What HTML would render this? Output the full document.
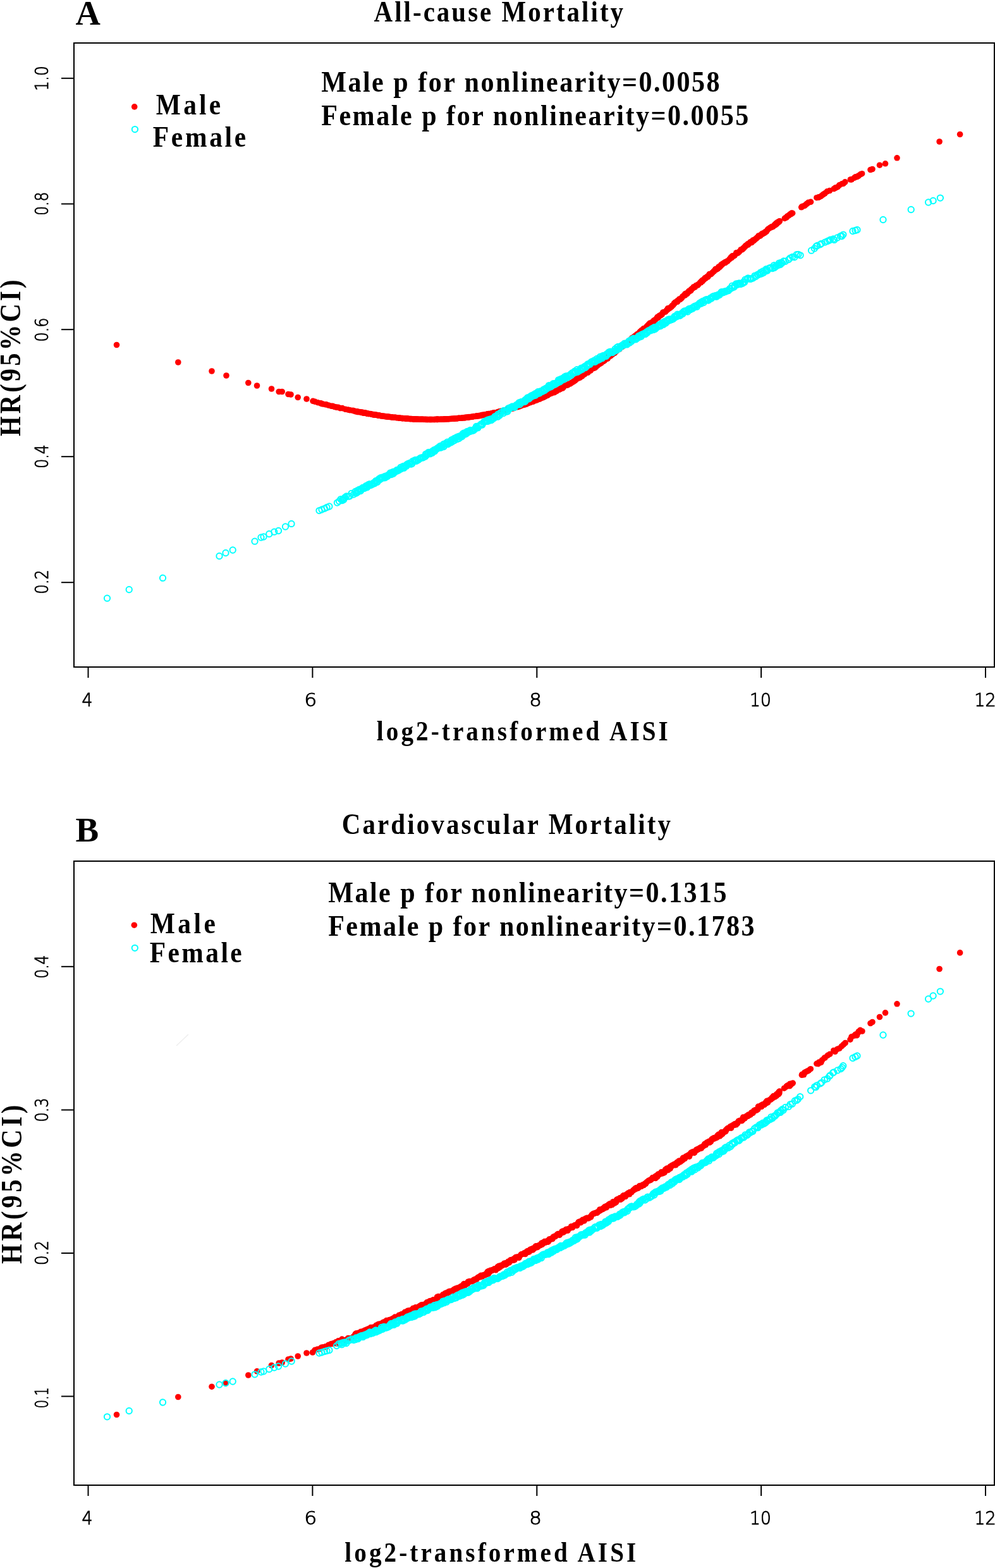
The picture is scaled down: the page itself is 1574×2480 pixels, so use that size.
<!DOCTYPE html>
<html><head><meta charset="utf-8"><title>AISI mortality</title>
<style>
html,body{margin:0;padding:0;background:#fff;}
body{width:1574px;height:2480px;overflow:hidden;}
svg{display:block;}
</style></head><body>
<svg width="1574" height="2480" viewBox="0 0 1574 2480">
<rect width="1574" height="2480" fill="#fff"/>
<g stroke="#000" stroke-width="2" fill="none"><rect x="117" y="68" width="1456" height="987" fill="none" stroke="#000" stroke-width="2"/><line x1="139.5" y1="1055" x2="139.5" y2="1072"/><line x1="494.4" y1="1055" x2="494.4" y2="1072"/><line x1="849.3" y1="1055" x2="849.3" y2="1072"/><line x1="1204.1" y1="1055" x2="1204.1" y2="1072"/><line x1="1559.0" y1="1055" x2="1559.0" y2="1072"/><line x1="97" y1="123.8" x2="117" y2="123.8"/><line x1="97" y1="322.5" x2="117" y2="322.5"/><line x1="97" y1="521.2" x2="117" y2="521.2"/><line x1="97" y1="722.2" x2="117" y2="722.2"/><line x1="97" y1="921.2" x2="117" y2="921.2"/><rect x="117" y="1362" width="1456" height="987" fill="none" stroke="#000" stroke-width="2"/><line x1="139.5" y1="2349" x2="139.5" y2="2366"/><line x1="494.4" y1="2349" x2="494.4" y2="2366"/><line x1="849.3" y1="2349" x2="849.3" y2="2366"/><line x1="1204.1" y1="2349" x2="1204.1" y2="2366"/><line x1="1559.0" y1="2349" x2="1559.0" y2="2366"/><line x1="97" y1="1528.8" x2="117" y2="1528.8"/><line x1="97" y1="1755.5" x2="117" y2="1755.5"/><line x1="97" y1="1982.0" x2="117" y2="1982.0"/><line x1="97" y1="2208.5" x2="117" y2="2208.5"/></g>
<line x1="279" y1="1654" x2="298" y2="1636" stroke="#eee" stroke-width="1.5"/>
<g fill="#f00" stroke="none"><circle cx="495.0" cy="634.3" r="4.8"/><circle cx="498.4" cy="635.3" r="4.8"/><circle cx="502.7" cy="636.7" r="4.8"/><circle cx="507.2" cy="637.9" r="4.8"/><circle cx="508.2" cy="638.1" r="4.8"/><circle cx="510.6" cy="639.0" r="4.8"/><circle cx="514.5" cy="639.7" r="4.8"/><circle cx="516.2" cy="639.8" r="4.8"/><circle cx="519.7" cy="641.0" r="4.8"/><circle cx="523.8" cy="642.2" r="4.8"/><circle cx="526.3" cy="642.3" r="4.8"/><circle cx="528.4" cy="643.2" r="4.8"/><circle cx="530.6" cy="643.8" r="4.8"/><circle cx="533.0" cy="644.3" r="4.8"/><circle cx="535.0" cy="644.2" r="4.8"/><circle cx="538.0" cy="645.6" r="4.8"/><circle cx="541.5" cy="645.6" r="4.8"/><circle cx="546.3" cy="647.3" r="4.8"/><circle cx="550.6" cy="648.0" r="4.8"/><circle cx="553.8" cy="648.8" r="4.8"/><circle cx="558.1" cy="649.4" r="4.8"/><circle cx="560.2" cy="649.8" r="4.8"/><circle cx="561.9" cy="650.7" r="4.8"/><circle cx="563.5" cy="650.7" r="4.8"/><circle cx="564.3" cy="650.7" r="4.8"/><circle cx="564.8" cy="651.1" r="4.8"/><circle cx="565.5" cy="651.0" r="4.8"/><circle cx="566.4" cy="651.6" r="4.8"/><circle cx="568.5" cy="651.5" r="4.8"/><circle cx="570.6" cy="652.1" r="4.8"/><circle cx="571.7" cy="652.4" r="4.8"/><circle cx="572.3" cy="652.3" r="4.8"/><circle cx="573.6" cy="652.4" r="4.8"/><circle cx="574.0" cy="652.9" r="4.8"/><circle cx="574.9" cy="653.0" r="4.8"/><circle cx="575.8" cy="653.1" r="4.8"/><circle cx="577.4" cy="653.1" r="4.8"/><circle cx="578.1" cy="653.3" r="4.8"/><circle cx="578.8" cy="653.4" r="4.8"/><circle cx="580.1" cy="653.9" r="4.8"/><circle cx="581.1" cy="654.3" r="4.8"/><circle cx="582.0" cy="654.1" r="4.8"/><circle cx="583.2" cy="654.6" r="4.8"/><circle cx="585.4" cy="654.5" r="4.8"/><circle cx="587.0" cy="654.9" r="4.8"/><circle cx="588.2" cy="655.3" r="4.8"/><circle cx="590.0" cy="655.9" r="4.8"/><circle cx="590.7" cy="655.6" r="4.8"/><circle cx="592.0" cy="655.9" r="4.8"/><circle cx="593.0" cy="656.1" r="4.8"/><circle cx="594.9" cy="656.3" r="4.8"/><circle cx="595.7" cy="656.4" r="4.8"/><circle cx="597.3" cy="656.7" r="4.8"/><circle cx="598.2" cy="657.0" r="4.8"/><circle cx="598.8" cy="657.1" r="4.8"/><circle cx="600.3" cy="657.1" r="4.8"/><circle cx="600.5" cy="657.3" r="4.8"/><circle cx="602.4" cy="657.7" r="4.8"/><circle cx="603.0" cy="657.9" r="4.8"/><circle cx="605.6" cy="658.1" r="4.8"/><circle cx="607.0" cy="658.3" r="4.8"/><circle cx="608.1" cy="658.5" r="4.8"/><circle cx="609.5" cy="658.6" r="4.8"/><circle cx="611.5" cy="658.7" r="4.8"/><circle cx="611.5" cy="659.0" r="4.8"/><circle cx="613.4" cy="659.1" r="4.8"/><circle cx="613.7" cy="659.2" r="4.8"/><circle cx="614.6" cy="659.3" r="4.8"/><circle cx="615.6" cy="659.4" r="4.8"/><circle cx="617.5" cy="659.5" r="4.8"/><circle cx="618.6" cy="659.7" r="4.8"/><circle cx="620.1" cy="659.8" r="4.8"/><circle cx="620.4" cy="660.0" r="4.8"/><circle cx="622.8" cy="660.3" r="4.8"/><circle cx="624.6" cy="660.2" r="4.8"/><circle cx="625.1" cy="660.3" r="4.8"/><circle cx="626.9" cy="660.6" r="4.8"/><circle cx="628.5" cy="660.8" r="4.8"/><circle cx="630.7" cy="661.1" r="4.8"/><circle cx="632.2" cy="661.2" r="4.8"/><circle cx="632.6" cy="661.3" r="4.8"/><circle cx="633.2" cy="661.3" r="4.8"/><circle cx="635.3" cy="661.5" r="4.8"/><circle cx="636.2" cy="661.6" r="4.8"/><circle cx="637.1" cy="661.6" r="4.8"/><circle cx="638.9" cy="661.8" r="4.8"/><circle cx="641.2" cy="661.9" r="4.8"/><circle cx="641.8" cy="662.0" r="4.8"/><circle cx="642.9" cy="662.2" r="4.8"/><circle cx="644.0" cy="662.1" r="4.8"/><circle cx="645.1" cy="662.1" r="4.8"/><circle cx="645.4" cy="662.2" r="4.8"/><circle cx="647.7" cy="662.5" r="4.8"/><circle cx="648.5" cy="662.5" r="4.8"/><circle cx="649.6" cy="662.6" r="4.8"/><circle cx="650.9" cy="662.6" r="4.8"/><circle cx="653.0" cy="662.7" r="4.8"/><circle cx="652.7" cy="662.7" r="4.8"/><circle cx="654.4" cy="662.9" r="4.8"/><circle cx="654.6" cy="662.9" r="4.8"/><circle cx="655.6" cy="662.9" r="4.8"/><circle cx="657.3" cy="662.9" r="4.8"/><circle cx="658.6" cy="663.0" r="4.8"/><circle cx="660.2" cy="663.0" r="4.8"/><circle cx="661.0" cy="663.0" r="4.8"/><circle cx="663.2" cy="663.2" r="4.8"/><circle cx="664.3" cy="663.2" r="4.8"/><circle cx="665.6" cy="663.3" r="4.8"/><circle cx="666.9" cy="663.3" r="4.8"/><circle cx="667.9" cy="663.3" r="4.8"/><circle cx="668.9" cy="663.3" r="4.8"/><circle cx="670.9" cy="663.4" r="4.8"/><circle cx="673.2" cy="663.4" r="4.8"/><circle cx="674.0" cy="663.5" r="4.8"/><circle cx="675.7" cy="663.5" r="4.8"/><circle cx="676.3" cy="663.5" r="4.8"/><circle cx="677.9" cy="663.5" r="4.8"/><circle cx="679.8" cy="663.5" r="4.8"/><circle cx="680.2" cy="663.5" r="4.8"/><circle cx="681.0" cy="663.5" r="4.8"/><circle cx="682.6" cy="663.5" r="4.8"/><circle cx="683.2" cy="663.5" r="4.8"/><circle cx="685.2" cy="663.5" r="4.8"/><circle cx="686.8" cy="663.5" r="4.8"/><circle cx="687.6" cy="663.5" r="4.8"/><circle cx="689.1" cy="663.4" r="4.8"/><circle cx="690.7" cy="663.4" r="4.8"/><circle cx="691.3" cy="663.4" r="4.8"/><circle cx="692.0" cy="663.4" r="4.8"/><circle cx="692.7" cy="663.4" r="4.8"/><circle cx="693.7" cy="663.3" r="4.8"/><circle cx="695.5" cy="663.3" r="4.8"/><circle cx="697.6" cy="663.2" r="4.8"/><circle cx="697.8" cy="663.3" r="4.8"/><circle cx="698.6" cy="663.2" r="4.8"/><circle cx="701.3" cy="663.1" r="4.8"/><circle cx="702.1" cy="663.0" r="4.8"/><circle cx="703.8" cy="662.9" r="4.8"/><circle cx="705.3" cy="662.9" r="4.8"/><circle cx="707.2" cy="662.9" r="4.8"/><circle cx="709.2" cy="662.8" r="4.8"/><circle cx="710.0" cy="662.7" r="4.8"/><circle cx="711.5" cy="662.5" r="4.8"/><circle cx="713.4" cy="662.5" r="4.8"/><circle cx="714.5" cy="662.3" r="4.8"/><circle cx="716.1" cy="662.3" r="4.8"/><circle cx="717.4" cy="662.2" r="4.8"/><circle cx="718.2" cy="662.2" r="4.8"/><circle cx="719.5" cy="662.1" r="4.8"/><circle cx="720.8" cy="662.0" r="4.8"/><circle cx="723.3" cy="661.9" r="4.8"/><circle cx="723.2" cy="661.7" r="4.8"/><circle cx="725.2" cy="661.4" r="4.8"/><circle cx="726.7" cy="661.3" r="4.8"/><circle cx="729.1" cy="661.3" r="4.8"/><circle cx="730.5" cy="661.2" r="4.8"/><circle cx="732.0" cy="660.9" r="4.8"/><circle cx="733.1" cy="660.7" r="4.8"/><circle cx="734.1" cy="660.8" r="4.8"/><circle cx="734.5" cy="660.5" r="4.8"/><circle cx="735.4" cy="660.6" r="4.8"/><circle cx="736.3" cy="660.6" r="4.8"/><circle cx="737.8" cy="660.1" r="4.8"/><circle cx="739.8" cy="660.0" r="4.8"/><circle cx="740.8" cy="660.1" r="4.8"/><circle cx="742.2" cy="659.6" r="4.8"/><circle cx="743.0" cy="659.7" r="4.8"/><circle cx="745.0" cy="659.5" r="4.8"/><circle cx="746.0" cy="659.2" r="4.8"/><circle cx="747.2" cy="659.3" r="4.8"/><circle cx="749.0" cy="658.7" r="4.8"/><circle cx="749.8" cy="658.5" r="4.8"/><circle cx="752.1" cy="658.5" r="4.8"/><circle cx="753.8" cy="658.1" r="4.8"/><circle cx="753.8" cy="658.3" r="4.8"/><circle cx="754.6" cy="657.9" r="4.8"/><circle cx="755.4" cy="658.0" r="4.8"/><circle cx="757.4" cy="657.6" r="4.8"/><circle cx="758.7" cy="657.6" r="4.8"/><circle cx="760.7" cy="657.2" r="4.8"/><circle cx="761.3" cy="656.8" r="4.8"/><circle cx="763.0" cy="656.4" r="4.8"/><circle cx="764.7" cy="656.2" r="4.8"/><circle cx="766.9" cy="655.9" r="4.8"/><circle cx="768.1" cy="656.0" r="4.8"/><circle cx="769.7" cy="655.2" r="4.8"/><circle cx="771.0" cy="655.4" r="4.8"/><circle cx="771.0" cy="655.1" r="4.8"/><circle cx="771.6" cy="655.0" r="4.8"/><circle cx="772.7" cy="655.2" r="4.8"/><circle cx="773.0" cy="654.6" r="4.8"/><circle cx="774.2" cy="654.6" r="4.8"/><circle cx="775.4" cy="654.7" r="4.8"/><circle cx="776.0" cy="654.6" r="4.8"/><circle cx="777.1" cy="654.3" r="4.8"/><circle cx="777.7" cy="653.8" r="4.8"/><circle cx="779.3" cy="653.5" r="4.8"/><circle cx="780.0" cy="653.8" r="4.8"/><circle cx="780.3" cy="653.1" r="4.8"/><circle cx="782.5" cy="652.9" r="4.8"/><circle cx="784.4" cy="652.9" r="4.8"/><circle cx="786.2" cy="652.4" r="4.8"/><circle cx="787.5" cy="651.7" r="4.8"/><circle cx="788.6" cy="651.2" r="4.8"/><circle cx="789.8" cy="651.2" r="4.8"/><circle cx="790.4" cy="650.9" r="4.8"/><circle cx="791.1" cy="651.1" r="4.8"/><circle cx="792.5" cy="650.3" r="4.8"/><circle cx="795.5" cy="650.3" r="4.8"/><circle cx="797.1" cy="649.6" r="4.8"/><circle cx="797.1" cy="649.7" r="4.8"/><circle cx="798.6" cy="649.2" r="4.8"/><circle cx="799.0" cy="648.7" r="4.8"/><circle cx="799.8" cy="648.7" r="4.8"/><circle cx="800.9" cy="648.4" r="4.8"/><circle cx="803.1" cy="647.8" r="4.8"/><circle cx="803.9" cy="647.6" r="4.8"/><circle cx="805.8" cy="647.3" r="4.8"/><circle cx="807.7" cy="646.4" r="4.8"/><circle cx="808.6" cy="646.5" r="4.8"/><circle cx="810.0" cy="646.2" r="4.8"/><circle cx="812.2" cy="645.8" r="4.8"/><circle cx="813.0" cy="645.4" r="4.8"/><circle cx="814.3" cy="644.6" r="4.8"/><circle cx="815.7" cy="644.2" r="4.8"/><circle cx="816.7" cy="643.6" r="4.8"/><circle cx="817.4" cy="643.4" r="4.8"/><circle cx="819.2" cy="643.6" r="4.8"/><circle cx="820.8" cy="642.5" r="4.8"/><circle cx="822.5" cy="642.6" r="4.8"/><circle cx="823.7" cy="641.4" r="4.8"/><circle cx="824.9" cy="641.3" r="4.8"/><circle cx="826.4" cy="640.9" r="4.8"/><circle cx="828.5" cy="640.3" r="4.8"/><circle cx="830.6" cy="639.7" r="4.8"/><circle cx="831.0" cy="639.5" r="4.8"/><circle cx="831.9" cy="639.4" r="4.8"/><circle cx="832.7" cy="639.1" r="4.8"/><circle cx="834.0" cy="638.1" r="4.8"/><circle cx="835.2" cy="637.9" r="4.8"/><circle cx="837.3" cy="636.8" r="4.8"/><circle cx="838.1" cy="636.6" r="4.8"/><circle cx="839.4" cy="636.3" r="4.8"/><circle cx="839.9" cy="635.9" r="4.8"/><circle cx="841.5" cy="634.8" r="4.8"/><circle cx="842.9" cy="634.9" r="4.8"/><circle cx="843.5" cy="634.6" r="4.8"/><circle cx="843.6" cy="635.0" r="4.8"/><circle cx="846.0" cy="633.6" r="4.8"/><circle cx="847.3" cy="633.1" r="4.8"/><circle cx="848.1" cy="633.0" r="4.8"/><circle cx="849.7" cy="632.7" r="4.8"/><circle cx="851.0" cy="631.2" r="4.8"/><circle cx="851.3" cy="631.5" r="4.8"/><circle cx="852.5" cy="631.0" r="4.8"/><circle cx="853.2" cy="631.2" r="4.8"/><circle cx="854.0" cy="630.0" r="4.8"/><circle cx="854.8" cy="630.7" r="4.8"/><circle cx="856.4" cy="628.7" r="4.8"/><circle cx="858.0" cy="628.9" r="4.8"/><circle cx="858.6" cy="628.8" r="4.8"/><circle cx="859.2" cy="628.4" r="4.8"/><circle cx="860.9" cy="627.9" r="4.8"/><circle cx="861.5" cy="627.4" r="4.8"/><circle cx="862.7" cy="626.5" r="4.8"/><circle cx="862.6" cy="626.7" r="4.8"/><circle cx="863.5" cy="626.3" r="4.8"/><circle cx="865.8" cy="625.3" r="4.8"/><circle cx="866.3" cy="625.0" r="4.8"/><circle cx="867.2" cy="624.4" r="4.8"/><circle cx="868.7" cy="623.4" r="4.8"/><circle cx="870.3" cy="622.7" r="4.8"/><circle cx="871.5" cy="622.1" r="4.8"/><circle cx="872.1" cy="622.2" r="4.8"/><circle cx="874.1" cy="620.8" r="4.8"/><circle cx="875.2" cy="620.7" r="4.8"/><circle cx="877.1" cy="620.6" r="4.8"/><circle cx="877.8" cy="619.5" r="4.8"/><circle cx="879.1" cy="618.6" r="4.8"/><circle cx="880.6" cy="618.6" r="4.8"/><circle cx="882.3" cy="616.4" r="4.8"/><circle cx="884.4" cy="616.2" r="4.8"/><circle cx="885.1" cy="616.2" r="4.8"/><circle cx="885.7" cy="615.4" r="4.8"/><circle cx="886.6" cy="615.2" r="4.8"/><circle cx="888.3" cy="613.5" r="4.8"/><circle cx="889.8" cy="614.0" r="4.8"/><circle cx="890.7" cy="613.4" r="4.8"/><circle cx="891.3" cy="611.3" r="4.8"/><circle cx="893.2" cy="610.4" r="4.8"/><circle cx="895.7" cy="609.2" r="4.8"/><circle cx="895.7" cy="609.2" r="4.8"/><circle cx="896.0" cy="609.3" r="4.8"/><circle cx="897.9" cy="609.0" r="4.8"/><circle cx="900.0" cy="607.2" r="4.8"/><circle cx="901.8" cy="607.0" r="4.8"/><circle cx="903.4" cy="605.8" r="4.8"/><circle cx="906.0" cy="604.2" r="4.8"/><circle cx="907.3" cy="603.6" r="4.8"/><circle cx="909.6" cy="601.5" r="4.8"/><circle cx="909.8" cy="601.8" r="4.8"/><circle cx="911.9" cy="599.6" r="4.8"/><circle cx="912.5" cy="599.3" r="4.8"/><circle cx="914.5" cy="598.3" r="4.8"/><circle cx="915.5" cy="596.7" r="4.8"/><circle cx="917.3" cy="597.4" r="4.8"/><circle cx="918.3" cy="595.7" r="4.8"/><circle cx="920.1" cy="594.1" r="4.8"/><circle cx="920.6" cy="595.0" r="4.8"/><circle cx="920.8" cy="594.9" r="4.8"/><circle cx="923.4" cy="592.1" r="4.8"/><circle cx="924.5" cy="592.1" r="4.8"/><circle cx="925.6" cy="590.9" r="4.8"/><circle cx="926.6" cy="589.8" r="4.8"/><circle cx="928.2" cy="588.6" r="4.8"/><circle cx="929.9" cy="589.3" r="4.8"/><circle cx="931.1" cy="587.7" r="4.8"/><circle cx="933.2" cy="585.5" r="4.8"/><circle cx="934.2" cy="586.2" r="4.8"/><circle cx="934.8" cy="584.9" r="4.8"/><circle cx="937.1" cy="583.2" r="4.8"/><circle cx="939.1" cy="581.3" r="4.8"/><circle cx="939.6" cy="582.3" r="4.8"/><circle cx="941.3" cy="581.5" r="4.8"/><circle cx="943.0" cy="580.2" r="4.8"/><circle cx="944.6" cy="577.8" r="4.8"/><circle cx="945.1" cy="576.5" r="4.8"/><circle cx="945.9" cy="577.5" r="4.8"/><circle cx="948.3" cy="574.4" r="4.8"/><circle cx="949.1" cy="574.5" r="4.8"/><circle cx="949.1" cy="575.3" r="4.8"/><circle cx="951.1" cy="574.0" r="4.8"/><circle cx="951.7" cy="572.6" r="4.8"/><circle cx="953.9" cy="571.1" r="4.8"/><circle cx="954.5" cy="571.5" r="4.8"/><circle cx="956.2" cy="570.3" r="4.8"/><circle cx="956.9" cy="569.4" r="4.8"/><circle cx="958.8" cy="567.2" r="4.8"/><circle cx="959.2" cy="567.5" r="4.8"/><circle cx="960.4" cy="565.4" r="4.8"/><circle cx="961.3" cy="567.1" r="4.8"/><circle cx="961.3" cy="566.3" r="4.8"/><circle cx="962.7" cy="563.8" r="4.8"/><circle cx="964.6" cy="563.2" r="4.8"/><circle cx="965.7" cy="563.2" r="4.8"/><circle cx="966.0" cy="561.1" r="4.8"/><circle cx="968.4" cy="560.9" r="4.8"/><circle cx="970.4" cy="558.5" r="4.8"/><circle cx="972.3" cy="558.4" r="4.8"/><circle cx="972.6" cy="556.7" r="4.8"/><circle cx="973.7" cy="554.9" r="4.8"/><circle cx="974.3" cy="555.1" r="4.8"/><circle cx="974.8" cy="555.6" r="4.8"/><circle cx="975.6" cy="554.8" r="4.8"/><circle cx="976.7" cy="553.3" r="4.8"/><circle cx="977.7" cy="553.1" r="4.8"/><circle cx="978.3" cy="552.5" r="4.8"/><circle cx="980.1" cy="552.1" r="4.8"/><circle cx="981.0" cy="550.3" r="4.8"/><circle cx="982.2" cy="548.7" r="4.8"/><circle cx="984.0" cy="548.5" r="4.8"/><circle cx="984.1" cy="548.4" r="4.8"/><circle cx="986.0" cy="547.1" r="4.8"/><circle cx="986.9" cy="545.1" r="4.8"/><circle cx="987.8" cy="545.7" r="4.8"/><circle cx="989.7" cy="544.3" r="4.8"/><circle cx="990.7" cy="542.6" r="4.8"/><circle cx="991.7" cy="542.2" r="4.8"/><circle cx="993.8" cy="541.4" r="4.8"/><circle cx="995.6" cy="540.1" r="4.8"/><circle cx="995.6" cy="539.2" r="4.8"/><circle cx="996.6" cy="538.7" r="4.8"/><circle cx="997.0" cy="537.5" r="4.8"/><circle cx="999.6" cy="534.8" r="4.8"/><circle cx="1001.1" cy="534.2" r="4.8"/><circle cx="1002.4" cy="533.1" r="4.8"/><circle cx="1004.5" cy="531.3" r="4.8"/><circle cx="1004.7" cy="531.5" r="4.8"/><circle cx="1006.3" cy="531.3" r="4.8"/><circle cx="1007.8" cy="528.7" r="4.8"/><circle cx="1009.6" cy="528.1" r="4.8"/><circle cx="1009.7" cy="528.0" r="4.8"/><circle cx="1011.1" cy="526.6" r="4.8"/><circle cx="1012.6" cy="524.5" r="4.8"/><circle cx="1012.3" cy="525.7" r="4.8"/><circle cx="1013.3" cy="524.6" r="4.8"/><circle cx="1014.6" cy="522.6" r="4.8"/><circle cx="1016.8" cy="522.5" r="4.8"/><circle cx="1017.9" cy="519.9" r="4.8"/><circle cx="1020.4" cy="520.0" r="4.8"/><circle cx="1022.2" cy="517.6" r="4.8"/><circle cx="1023.3" cy="516.1" r="4.8"/><circle cx="1025.0" cy="514.7" r="4.8"/><circle cx="1026.6" cy="512.6" r="4.8"/><circle cx="1028.4" cy="511.0" r="4.8"/><circle cx="1029.4" cy="511.8" r="4.8"/><circle cx="1030.2" cy="512.0" r="4.8"/><circle cx="1032.2" cy="509.7" r="4.8"/><circle cx="1032.8" cy="508.7" r="4.8"/><circle cx="1034.7" cy="506.7" r="4.8"/><circle cx="1035.9" cy="507.2" r="4.8"/><circle cx="1036.9" cy="505.3" r="4.8"/><circle cx="1039.1" cy="503.1" r="4.8"/><circle cx="1039.8" cy="501.9" r="4.8"/><circle cx="1040.5" cy="501.2" r="4.8"/><circle cx="1041.0" cy="502.7" r="4.8"/><circle cx="1042.9" cy="499.4" r="4.8"/><circle cx="1044.8" cy="499.2" r="4.8"/><circle cx="1046.8" cy="497.0" r="4.8"/><circle cx="1047.1" cy="497.4" r="4.8"/><circle cx="1048.8" cy="494.0" r="4.8"/><circle cx="1050.5" cy="493.7" r="4.8"/><circle cx="1052.7" cy="493.1" r="4.8"/><circle cx="1054.4" cy="490.9" r="4.8"/><circle cx="1055.6" cy="490.2" r="4.8"/><circle cx="1056.4" cy="487.9" r="4.8"/><circle cx="1057.8" cy="488.3" r="4.8"/><circle cx="1060.1" cy="486.9" r="4.8"/><circle cx="1060.4" cy="486.3" r="4.8"/><circle cx="1062.3" cy="485.1" r="4.8"/><circle cx="1063.3" cy="483.5" r="4.8"/><circle cx="1064.9" cy="482.6" r="4.8"/><circle cx="1066.4" cy="480.0" r="4.8"/><circle cx="1066.8" cy="480.1" r="4.8"/><circle cx="1068.0" cy="478.2" r="4.8"/><circle cx="1068.8" cy="478.2" r="4.8"/><circle cx="1071.1" cy="476.1" r="4.8"/><circle cx="1071.6" cy="477.3" r="4.8"/><circle cx="1072.9" cy="475.2" r="4.8"/><circle cx="1074.5" cy="473.1" r="4.8"/><circle cx="1076.0" cy="473.5" r="4.8"/><circle cx="1077.3" cy="472.2" r="4.8"/><circle cx="1078.7" cy="471.1" r="4.8"/><circle cx="1079.5" cy="469.2" r="4.8"/><circle cx="1080.6" cy="468.3" r="4.8"/><circle cx="1083.3" cy="465.8" r="4.8"/><circle cx="1083.7" cy="467.1" r="4.8"/><circle cx="1084.1" cy="464.6" r="4.8"/><circle cx="1086.3" cy="464.9" r="4.8"/><circle cx="1087.2" cy="464.3" r="4.8"/><circle cx="1087.6" cy="462.8" r="4.8"/><circle cx="1088.9" cy="462.2" r="4.8"/><circle cx="1089.7" cy="460.4" r="4.8"/><circle cx="1091.0" cy="460.6" r="4.8"/><circle cx="1092.9" cy="459.6" r="4.8"/><circle cx="1093.5" cy="457.7" r="4.8"/><circle cx="1094.8" cy="456.5" r="4.8"/><circle cx="1096.0" cy="455.9" r="4.8"/><circle cx="1097.5" cy="453.7" r="4.8"/><circle cx="1099.4" cy="454.2" r="4.8"/><circle cx="1100.9" cy="451.9" r="4.8"/><circle cx="1101.9" cy="451.2" r="4.8"/><circle cx="1103.8" cy="451.0" r="4.8"/><circle cx="1105.0" cy="449.5" r="4.8"/><circle cx="1107.5" cy="446.8" r="4.8"/><circle cx="1108.8" cy="446.8" r="4.8"/><circle cx="1109.8" cy="444.6" r="4.8"/><circle cx="1111.1" cy="444.9" r="4.8"/><circle cx="1111.7" cy="443.0" r="4.8"/><circle cx="1113.2" cy="442.6" r="4.8"/><circle cx="1115.0" cy="439.8" r="4.8"/><circle cx="1116.2" cy="440.4" r="4.8"/><circle cx="1117.3" cy="438.6" r="4.8"/><circle cx="1119.1" cy="437.1" r="4.8"/><circle cx="1119.9" cy="437.9" r="4.8"/><circle cx="1121.8" cy="435.2" r="4.8"/><circle cx="1122.3" cy="433.5" r="4.8"/><circle cx="1124.9" cy="433.5" r="4.8"/><circle cx="1126.7" cy="431.6" r="4.8"/><circle cx="1127.6" cy="430.6" r="4.8"/><circle cx="1129.4" cy="428.8" r="4.8"/><circle cx="1129.6" cy="428.8" r="4.8"/><circle cx="1130.8" cy="427.3" r="4.8"/><circle cx="1132.0" cy="425.5" r="4.8"/><circle cx="1133.6" cy="426.2" r="4.8"/><circle cx="1135.5" cy="424.9" r="4.8"/><circle cx="1136.7" cy="422.1" r="4.8"/><circle cx="1138.3" cy="422.7" r="4.8"/><circle cx="1139.7" cy="421.0" r="4.8"/><circle cx="1140.7" cy="418.9" r="4.8"/><circle cx="1141.7" cy="419.2" r="4.8"/><circle cx="1142.3" cy="417.9" r="4.8"/><circle cx="1143.5" cy="417.4" r="4.8"/><circle cx="1144.5" cy="416.3" r="4.8"/><circle cx="1146.8" cy="414.9" r="4.8"/><circle cx="1147.5" cy="415.5" r="4.8"/><circle cx="1148.9" cy="414.1" r="4.8"/><circle cx="1149.6" cy="413.5" r="4.8"/><circle cx="1151.0" cy="412.8" r="4.8"/><circle cx="1153.6" cy="410.4" r="4.8"/><circle cx="1155.4" cy="408.6" r="4.8"/><circle cx="1156.4" cy="406.8" r="4.8"/><circle cx="1157.5" cy="407.7" r="4.8"/><circle cx="1158.5" cy="404.9" r="4.8"/><circle cx="1160.2" cy="405.1" r="4.8"/><circle cx="1161.4" cy="404.4" r="4.8"/><circle cx="1162.1" cy="404.0" r="4.8"/><circle cx="1164.4" cy="401.4" r="4.8"/><circle cx="1164.9" cy="399.7" r="4.8"/><circle cx="1165.9" cy="400.0" r="4.8"/><circle cx="1167.3" cy="400.1" r="4.8"/><circle cx="1168.0" cy="399.3" r="4.8"/><circle cx="1169.7" cy="397.9" r="4.8"/><circle cx="1172.2" cy="394.7" r="4.8"/><circle cx="1173.3" cy="395.0" r="4.8"/><circle cx="1174.9" cy="394.0" r="4.8"/><circle cx="1175.9" cy="392.4" r="4.8"/><circle cx="1176.7" cy="392.4" r="4.8"/><circle cx="1178.6" cy="389.8" r="4.8"/><circle cx="1179.2" cy="389.5" r="4.8"/><circle cx="1179.5" cy="388.6" r="4.8"/><circle cx="1181.5" cy="387.5" r="4.8"/><circle cx="1182.9" cy="385.8" r="4.8"/><circle cx="1183.5" cy="387.0" r="4.8"/><circle cx="1184.8" cy="385.1" r="4.8"/><circle cx="1187.2" cy="382.7" r="4.8"/><circle cx="1188.1" cy="383.8" r="4.8"/><circle cx="1189.3" cy="383.3" r="4.8"/><circle cx="1190.0" cy="381.9" r="4.8"/><circle cx="1191.1" cy="380.0" r="4.8"/><circle cx="1192.6" cy="380.6" r="4.8"/><circle cx="1194.1" cy="378.6" r="4.8"/><circle cx="1194.7" cy="378.6" r="4.8"/><circle cx="1196.5" cy="377.2" r="4.8"/><circle cx="1196.9" cy="376.3" r="4.8"/><circle cx="1198.7" cy="375.2" r="4.8"/><circle cx="1199.8" cy="373.6" r="4.8"/><circle cx="1200.5" cy="372.7" r="4.8"/><circle cx="1202.5" cy="373.1" r="4.8"/><circle cx="1203.2" cy="372.0" r="4.8"/><circle cx="1204.8" cy="370.6" r="4.8"/><circle cx="1205.5" cy="369.6" r="4.8"/><circle cx="1206.0" cy="370.3" r="4.8"/><circle cx="1207.2" cy="369.0" r="4.8"/><circle cx="1209.2" cy="368.6" r="4.8"/><circle cx="1210.4" cy="367.0" r="4.8"/><circle cx="1210.8" cy="367.1" r="4.8"/><circle cx="1211.8" cy="366.5" r="4.8"/><circle cx="1212.4" cy="366.1" r="4.8"/><circle cx="1213.9" cy="363.8" r="4.8"/><circle cx="1215.2" cy="362.2" r="4.8"/><circle cx="1217.8" cy="360.6" r="4.8"/><circle cx="1218.9" cy="359.8" r="4.8"/><circle cx="1220.9" cy="358.5" r="4.8"/><circle cx="1222.1" cy="358.9" r="4.8"/><circle cx="1224.1" cy="357.4" r="4.8"/><circle cx="1225.4" cy="355.3" r="4.8"/><circle cx="1225.9" cy="356.2" r="4.8"/><circle cx="1227.1" cy="355.4" r="4.8"/><circle cx="1227.7" cy="353.2" r="4.8"/><circle cx="1229.0" cy="353.9" r="4.8"/><circle cx="1229.6" cy="351.8" r="4.8"/><circle cx="1231.4" cy="351.0" r="4.8"/><circle cx="1232.2" cy="351.1" r="4.8"/><circle cx="1232.9" cy="350.1" r="4.8"/><circle cx="1233.3" cy="349.7" r="4.8"/><circle cx="1241.3" cy="345.4" r="4.8"/><circle cx="1244.0" cy="344.0" r="4.8"/><circle cx="1245.1" cy="342.3" r="4.8"/><circle cx="1246.4" cy="341.7" r="4.8"/><circle cx="1247.6" cy="340.8" r="4.8"/><circle cx="1249.6" cy="339.1" r="4.8"/><circle cx="1249.9" cy="339.1" r="4.8"/><circle cx="1251.5" cy="338.5" r="4.8"/><circle cx="1252.2" cy="337.1" r="4.8"/><circle cx="1253.6" cy="337.2" r="4.8"/><circle cx="1267.7" cy="327.8" r="4.8"/><circle cx="1268.9" cy="326.6" r="4.8"/><circle cx="1271.9" cy="325.7" r="4.8"/><circle cx="1273.3" cy="325.0" r="4.8"/><circle cx="1275.3" cy="323.1" r="4.8"/><circle cx="1277.4" cy="321.7" r="4.8"/><circle cx="1278.6" cy="320.3" r="4.8"/><circle cx="1282.5" cy="319.4" r="4.8"/><circle cx="1291.9" cy="312.7" r="4.8"/><circle cx="1295.0" cy="311.8" r="4.8"/><circle cx="1295.2" cy="312.1" r="4.8"/><circle cx="1298.7" cy="310.4" r="4.8"/><circle cx="1301.2" cy="308.3" r="4.8"/><circle cx="1303.7" cy="306.7" r="4.8"/><circle cx="1304.9" cy="305.9" r="4.8"/><circle cx="1308.4" cy="302.9" r="4.8"/><circle cx="1312.5" cy="301.5" r="4.8"/><circle cx="1319.2" cy="298.6" r="4.8"/><circle cx="1321.0" cy="297.4" r="4.8"/><circle cx="1321.8" cy="297.1" r="4.8"/><circle cx="1325.1" cy="295.7" r="4.8"/><circle cx="1327.7" cy="292.8" r="4.8"/><circle cx="1331.8" cy="290.8" r="4.8"/><circle cx="1334.2" cy="290.4" r="4.8"/><circle cx="1336.8" cy="287.9" r="4.8"/><circle cx="1345.3" cy="284.0" r="4.8"/><circle cx="1347.2" cy="283.9" r="4.8"/><circle cx="1351.3" cy="281.3" r="4.8"/><circle cx="1353.3" cy="279.8" r="4.8"/><circle cx="1355.8" cy="279.7" r="4.8"/><circle cx="1357.2" cy="278.5" r="4.8"/><circle cx="1358.2" cy="278.1" r="4.8"/><circle cx="1361.0" cy="275.8" r="4.8"/><circle cx="1363.6" cy="274.7" r="4.8"/><circle cx="184.5" cy="545.5" r="4.8"/><circle cx="281.8" cy="573.0" r="4.8"/><circle cx="335.0" cy="587.0" r="4.8"/><circle cx="358.0" cy="594.0" r="4.8"/><circle cx="392.8" cy="605.5" r="4.8"/><circle cx="406.5" cy="610.0" r="4.8"/><circle cx="429.5" cy="615.0" r="4.8"/><circle cx="441.2" cy="619.5" r="4.8"/><circle cx="446.2" cy="619.5" r="4.8"/><circle cx="456.0" cy="623.5" r="4.8"/><circle cx="460.0" cy="624.0" r="4.8"/><circle cx="471.2" cy="628.5" r="4.8"/><circle cx="485.0" cy="631.0" r="4.8"/><circle cx="1377.0" cy="268.5" r="4.8"/><circle cx="1380.0" cy="267.5" r="4.8"/><circle cx="1391.5" cy="261.2" r="4.8"/><circle cx="1400.5" cy="258.8" r="4.8"/><circle cx="1419.0" cy="249.8" r="4.8"/><circle cx="1486.1" cy="224.0" r="4.8"/><circle cx="1518.6" cy="212.5" r="4.8"/></g>
<g fill="none" stroke="#0ff" stroke-width="2"><circle cx="533.4" cy="795.1" r="4.65"/><circle cx="536.5" cy="792.8" r="4.65"/><circle cx="539.0" cy="789.6" r="4.65"/><circle cx="541.4" cy="791.5" r="4.65"/><circle cx="541.9" cy="790.1" r="4.65"/><circle cx="543.5" cy="790.5" r="4.65"/><circle cx="544.1" cy="788.4" r="4.65"/><circle cx="545.8" cy="786.7" r="4.65"/><circle cx="547.9" cy="784.9" r="4.65"/><circle cx="551.0" cy="785.2" r="4.65"/><circle cx="553.2" cy="784.8" r="4.65"/><circle cx="556.1" cy="780.3" r="4.65"/><circle cx="559.4" cy="782.0" r="4.65"/><circle cx="562.0" cy="777.4" r="4.65"/><circle cx="563.2" cy="780.1" r="4.65"/><circle cx="563.8" cy="779.7" r="4.65"/><circle cx="565.1" cy="776.0" r="4.65"/><circle cx="566.4" cy="777.9" r="4.65"/><circle cx="567.0" cy="775.8" r="4.65"/><circle cx="568.2" cy="774.2" r="4.65"/><circle cx="570.4" cy="776.4" r="4.65"/><circle cx="570.6" cy="775.8" r="4.65"/><circle cx="571.5" cy="773.5" r="4.65"/><circle cx="573.7" cy="771.5" r="4.65"/><circle cx="574.2" cy="771.3" r="4.65"/><circle cx="575.8" cy="771.5" r="4.65"/><circle cx="576.3" cy="772.4" r="4.65"/><circle cx="578.1" cy="770.0" r="4.65"/><circle cx="579.2" cy="768.3" r="4.65"/><circle cx="580.2" cy="769.5" r="4.65"/><circle cx="580.8" cy="770.8" r="4.65"/><circle cx="582.4" cy="766.7" r="4.65"/><circle cx="584.3" cy="767.6" r="4.65"/><circle cx="584.6" cy="765.6" r="4.65"/><circle cx="585.3" cy="767.5" r="4.65"/><circle cx="587.3" cy="767.1" r="4.65"/><circle cx="588.2" cy="766.5" r="4.65"/><circle cx="589.5" cy="765.3" r="4.65"/><circle cx="591.2" cy="763.4" r="4.65"/><circle cx="592.5" cy="764.8" r="4.65"/><circle cx="594.2" cy="761.7" r="4.65"/><circle cx="594.8" cy="760.3" r="4.65"/><circle cx="596.8" cy="762.6" r="4.65"/><circle cx="597.7" cy="761.1" r="4.65"/><circle cx="599.9" cy="757.1" r="4.65"/><circle cx="601.1" cy="758.6" r="4.65"/><circle cx="602.1" cy="755.7" r="4.65"/><circle cx="604.2" cy="756.2" r="4.65"/><circle cx="605.0" cy="755.0" r="4.65"/><circle cx="605.5" cy="755.7" r="4.65"/><circle cx="607.8" cy="755.8" r="4.65"/><circle cx="609.3" cy="753.1" r="4.65"/><circle cx="609.4" cy="755.5" r="4.65"/><circle cx="611.9" cy="753.6" r="4.65"/><circle cx="612.8" cy="753.4" r="4.65"/><circle cx="613.7" cy="751.5" r="4.65"/><circle cx="615.3" cy="750.9" r="4.65"/><circle cx="616.3" cy="750.0" r="4.65"/><circle cx="617.5" cy="747.8" r="4.65"/><circle cx="618.3" cy="748.4" r="4.65"/><circle cx="619.0" cy="750.5" r="4.65"/><circle cx="619.8" cy="749.4" r="4.65"/><circle cx="620.6" cy="747.2" r="4.65"/><circle cx="621.1" cy="749.4" r="4.65"/><circle cx="622.1" cy="746.2" r="4.65"/><circle cx="622.4" cy="749.0" r="4.65"/><circle cx="624.0" cy="747.1" r="4.65"/><circle cx="625.6" cy="746.1" r="4.65"/><circle cx="627.7" cy="743.5" r="4.65"/><circle cx="628.1" cy="744.9" r="4.65"/><circle cx="629.2" cy="744.4" r="4.65"/><circle cx="630.5" cy="743.7" r="4.65"/><circle cx="631.6" cy="742.2" r="4.65"/><circle cx="632.3" cy="742.8" r="4.65"/><circle cx="634.0" cy="739.1" r="4.65"/><circle cx="634.6" cy="741.5" r="4.65"/><circle cx="637.2" cy="740.2" r="4.65"/><circle cx="637.7" cy="737.4" r="4.65"/><circle cx="639.1" cy="740.2" r="4.65"/><circle cx="640.7" cy="737.3" r="4.65"/><circle cx="642.7" cy="735.4" r="4.65"/><circle cx="643.0" cy="737.2" r="4.65"/><circle cx="644.2" cy="734.6" r="4.65"/><circle cx="644.6" cy="733.8" r="4.65"/><circle cx="647.2" cy="732.9" r="4.65"/><circle cx="646.9" cy="732.8" r="4.65"/><circle cx="648.2" cy="733.9" r="4.65"/><circle cx="650.4" cy="734.1" r="4.65"/><circle cx="651.7" cy="733.6" r="4.65"/><circle cx="652.3" cy="729.7" r="4.65"/><circle cx="654.9" cy="729.0" r="4.65"/><circle cx="655.5" cy="728.6" r="4.65"/><circle cx="656.1" cy="728.1" r="4.65"/><circle cx="656.8" cy="727.6" r="4.65"/><circle cx="657.9" cy="729.0" r="4.65"/><circle cx="658.2" cy="727.4" r="4.65"/><circle cx="659.1" cy="729.0" r="4.65"/><circle cx="661.7" cy="727.4" r="4.65"/><circle cx="663.3" cy="725.9" r="4.65"/><circle cx="664.0" cy="725.3" r="4.65"/><circle cx="665.1" cy="724.4" r="4.65"/><circle cx="666.6" cy="723.8" r="4.65"/><circle cx="668.8" cy="724.0" r="4.65"/><circle cx="669.7" cy="723.3" r="4.65"/><circle cx="671.9" cy="722.1" r="4.65"/><circle cx="672.9" cy="722.0" r="4.65"/><circle cx="673.6" cy="718.1" r="4.65"/><circle cx="674.8" cy="719.8" r="4.65"/><circle cx="676.1" cy="718.1" r="4.65"/><circle cx="676.8" cy="716.7" r="4.65"/><circle cx="677.9" cy="715.3" r="4.65"/><circle cx="680.3" cy="715.5" r="4.65"/><circle cx="680.7" cy="717.8" r="4.65"/><circle cx="682.2" cy="716.6" r="4.65"/><circle cx="684.0" cy="716.3" r="4.65"/><circle cx="684.4" cy="713.2" r="4.65"/><circle cx="686.1" cy="713.1" r="4.65"/><circle cx="687.2" cy="711.3" r="4.65"/><circle cx="687.6" cy="713.7" r="4.65"/><circle cx="689.5" cy="711.2" r="4.65"/><circle cx="691.4" cy="709.2" r="4.65"/><circle cx="692.0" cy="709.6" r="4.65"/><circle cx="693.1" cy="707.9" r="4.65"/><circle cx="695.3" cy="707.9" r="4.65"/><circle cx="696.3" cy="705.7" r="4.65"/><circle cx="696.2" cy="705.7" r="4.65"/><circle cx="697.5" cy="708.1" r="4.65"/><circle cx="699.2" cy="706.4" r="4.65"/><circle cx="701.3" cy="702.7" r="4.65"/><circle cx="701.4" cy="706.7" r="4.65"/><circle cx="702.4" cy="706.0" r="4.65"/><circle cx="703.3" cy="702.4" r="4.65"/><circle cx="704.0" cy="701.7" r="4.65"/><circle cx="706.3" cy="701.6" r="4.65"/><circle cx="706.9" cy="701.8" r="4.65"/><circle cx="707.6" cy="699.2" r="4.65"/><circle cx="708.7" cy="702.6" r="4.65"/><circle cx="709.7" cy="700.9" r="4.65"/><circle cx="711.8" cy="699.9" r="4.65"/><circle cx="712.8" cy="697.8" r="4.65"/><circle cx="713.6" cy="699.8" r="4.65"/><circle cx="714.5" cy="695.6" r="4.65"/><circle cx="716.3" cy="698.0" r="4.65"/><circle cx="718.2" cy="693.7" r="4.65"/><circle cx="719.1" cy="696.6" r="4.65"/><circle cx="720.9" cy="692.5" r="4.65"/><circle cx="721.6" cy="692.5" r="4.65"/><circle cx="723.0" cy="694.7" r="4.65"/><circle cx="723.8" cy="690.8" r="4.65"/><circle cx="726.1" cy="693.5" r="4.65"/><circle cx="726.7" cy="689.9" r="4.65"/><circle cx="727.3" cy="690.4" r="4.65"/><circle cx="729.2" cy="691.1" r="4.65"/><circle cx="730.8" cy="690.6" r="4.65"/><circle cx="730.9" cy="688.8" r="4.65"/><circle cx="731.3" cy="688.2" r="4.65"/><circle cx="732.1" cy="685.9" r="4.65"/><circle cx="732.6" cy="686.5" r="4.65"/><circle cx="733.5" cy="687.8" r="4.65"/><circle cx="733.9" cy="684.9" r="4.65"/><circle cx="735.7" cy="686.7" r="4.65"/><circle cx="736.7" cy="686.4" r="4.65"/><circle cx="738.1" cy="684.8" r="4.65"/><circle cx="739.0" cy="682.3" r="4.65"/><circle cx="738.9" cy="685.0" r="4.65"/><circle cx="739.9" cy="683.5" r="4.65"/><circle cx="741.6" cy="682.1" r="4.65"/><circle cx="743.0" cy="682.7" r="4.65"/><circle cx="743.7" cy="680.4" r="4.65"/><circle cx="745.8" cy="681.1" r="4.65"/><circle cx="746.5" cy="681.5" r="4.65"/><circle cx="748.7" cy="680.9" r="4.65"/><circle cx="750.6" cy="679.4" r="4.65"/><circle cx="751.4" cy="678.1" r="4.65"/><circle cx="753.4" cy="674.4" r="4.65"/><circle cx="753.9" cy="676.2" r="4.65"/><circle cx="754.1" cy="676.7" r="4.65"/><circle cx="755.9" cy="676.7" r="4.65"/><circle cx="756.9" cy="673.9" r="4.65"/><circle cx="759.5" cy="672.5" r="4.65"/><circle cx="760.0" cy="672.2" r="4.65"/><circle cx="761.2" cy="670.7" r="4.65"/><circle cx="762.3" cy="670.7" r="4.65"/><circle cx="762.8" cy="672.1" r="4.65"/><circle cx="765.7" cy="667.7" r="4.65"/><circle cx="766.4" cy="666.4" r="4.65"/><circle cx="767.8" cy="666.4" r="4.65"/><circle cx="769.6" cy="666.3" r="4.65"/><circle cx="769.6" cy="665.7" r="4.65"/><circle cx="770.7" cy="664.4" r="4.65"/><circle cx="771.8" cy="666.3" r="4.65"/><circle cx="773.2" cy="663.6" r="4.65"/><circle cx="774.0" cy="665.2" r="4.65"/><circle cx="775.7" cy="662.8" r="4.65"/><circle cx="777.3" cy="664.6" r="4.65"/><circle cx="777.8" cy="664.0" r="4.65"/><circle cx="779.3" cy="662.0" r="4.65"/><circle cx="780.3" cy="661.9" r="4.65"/><circle cx="781.7" cy="661.3" r="4.65"/><circle cx="783.0" cy="658.6" r="4.65"/><circle cx="785.3" cy="658.0" r="4.65"/><circle cx="787.4" cy="659.2" r="4.65"/><circle cx="787.8" cy="655.2" r="4.65"/><circle cx="789.8" cy="656.7" r="4.65"/><circle cx="790.4" cy="656.9" r="4.65"/><circle cx="792.3" cy="652.4" r="4.65"/><circle cx="793.8" cy="652.1" r="4.65"/><circle cx="796.5" cy="653.5" r="4.65"/><circle cx="796.8" cy="649.5" r="4.65"/><circle cx="798.5" cy="650.6" r="4.65"/><circle cx="800.4" cy="651.3" r="4.65"/><circle cx="802.9" cy="650.8" r="4.65"/><circle cx="803.8" cy="646.0" r="4.65"/><circle cx="805.1" cy="647.4" r="4.65"/><circle cx="807.0" cy="644.6" r="4.65"/><circle cx="807.6" cy="645.4" r="4.65"/><circle cx="809.2" cy="643.9" r="4.65"/><circle cx="810.3" cy="643.0" r="4.65"/><circle cx="811.3" cy="643.8" r="4.65"/><circle cx="812.7" cy="643.9" r="4.65"/><circle cx="814.0" cy="644.3" r="4.65"/><circle cx="814.3" cy="643.7" r="4.65"/><circle cx="814.8" cy="642.4" r="4.65"/><circle cx="817.0" cy="640.3" r="4.65"/><circle cx="818.0" cy="640.6" r="4.65"/><circle cx="819.2" cy="639.3" r="4.65"/><circle cx="820.9" cy="636.9" r="4.65"/><circle cx="822.2" cy="639.8" r="4.65"/><circle cx="823.4" cy="636.2" r="4.65"/><circle cx="823.4" cy="636.9" r="4.65"/><circle cx="824.6" cy="635.7" r="4.65"/><circle cx="826.6" cy="636.2" r="4.65"/><circle cx="827.5" cy="635.3" r="4.65"/><circle cx="828.4" cy="635.0" r="4.65"/><circle cx="830.3" cy="635.3" r="4.65"/><circle cx="831.0" cy="634.6" r="4.65"/><circle cx="830.7" cy="632.4" r="4.65"/><circle cx="833.0" cy="630.9" r="4.65"/><circle cx="834.5" cy="628.9" r="4.65"/><circle cx="835.0" cy="629.9" r="4.65"/><circle cx="836.3" cy="629.1" r="4.65"/><circle cx="836.9" cy="630.8" r="4.65"/><circle cx="838.1" cy="628.1" r="4.65"/><circle cx="840.0" cy="628.1" r="4.65"/><circle cx="840.0" cy="626.1" r="4.65"/><circle cx="841.6" cy="625.5" r="4.65"/><circle cx="842.7" cy="626.6" r="4.65"/><circle cx="844.3" cy="624.2" r="4.65"/><circle cx="845.0" cy="625.5" r="4.65"/><circle cx="846.1" cy="623.0" r="4.65"/><circle cx="846.9" cy="625.3" r="4.65"/><circle cx="848.7" cy="621.8" r="4.65"/><circle cx="849.6" cy="623.0" r="4.65"/><circle cx="851.0" cy="619.7" r="4.65"/><circle cx="851.8" cy="622.1" r="4.65"/><circle cx="853.3" cy="621.9" r="4.65"/><circle cx="854.2" cy="620.8" r="4.65"/><circle cx="855.4" cy="618.6" r="4.65"/><circle cx="858.0" cy="619.3" r="4.65"/><circle cx="860.3" cy="616.6" r="4.65"/><circle cx="860.0" cy="615.9" r="4.65"/><circle cx="861.6" cy="617.6" r="4.65"/><circle cx="863.4" cy="614.2" r="4.65"/><circle cx="864.6" cy="614.9" r="4.65"/><circle cx="865.3" cy="614.6" r="4.65"/><circle cx="866.9" cy="612.4" r="4.65"/><circle cx="867.3" cy="612.0" r="4.65"/><circle cx="867.2" cy="611.9" r="4.65"/><circle cx="868.4" cy="609.6" r="4.65"/><circle cx="869.3" cy="612.6" r="4.65"/><circle cx="869.8" cy="610.8" r="4.65"/><circle cx="871.5" cy="611.7" r="4.65"/><circle cx="871.9" cy="610.7" r="4.65"/><circle cx="872.1" cy="610.1" r="4.65"/><circle cx="874.1" cy="608.4" r="4.65"/><circle cx="875.0" cy="606.8" r="4.65"/><circle cx="875.4" cy="607.0" r="4.65"/><circle cx="877.7" cy="606.9" r="4.65"/><circle cx="877.5" cy="607.8" r="4.65"/><circle cx="878.2" cy="607.9" r="4.65"/><circle cx="880.9" cy="605.1" r="4.65"/><circle cx="882.6" cy="605.1" r="4.65"/><circle cx="883.6" cy="600.8" r="4.65"/><circle cx="884.7" cy="601.7" r="4.65"/><circle cx="885.5" cy="602.2" r="4.65"/><circle cx="885.6" cy="603.9" r="4.65"/><circle cx="887.0" cy="599.6" r="4.65"/><circle cx="887.4" cy="601.3" r="4.65"/><circle cx="888.0" cy="601.9" r="4.65"/><circle cx="889.8" cy="598.3" r="4.65"/><circle cx="890.3" cy="599.6" r="4.65"/><circle cx="890.2" cy="598.8" r="4.65"/><circle cx="892.3" cy="600.0" r="4.65"/><circle cx="893.4" cy="595.8" r="4.65"/><circle cx="894.6" cy="597.1" r="4.65"/><circle cx="895.2" cy="594.9" r="4.65"/><circle cx="897.0" cy="597.6" r="4.65"/><circle cx="897.7" cy="594.9" r="4.65"/><circle cx="899.2" cy="594.4" r="4.65"/><circle cx="900.6" cy="595.1" r="4.65"/><circle cx="901.2" cy="593.9" r="4.65"/><circle cx="902.5" cy="591.9" r="4.65"/><circle cx="903.5" cy="593.7" r="4.65"/><circle cx="905.4" cy="589.6" r="4.65"/><circle cx="907.5" cy="590.1" r="4.65"/><circle cx="909.0" cy="587.2" r="4.65"/><circle cx="910.5" cy="589.1" r="4.65"/><circle cx="911.0" cy="587.9" r="4.65"/><circle cx="912.6" cy="584.7" r="4.65"/><circle cx="913.3" cy="587.1" r="4.65"/><circle cx="913.8" cy="588.3" r="4.65"/><circle cx="915.1" cy="586.7" r="4.65"/><circle cx="917.4" cy="586.1" r="4.65"/><circle cx="919.4" cy="582.2" r="4.65"/><circle cx="920.6" cy="582.3" r="4.65"/><circle cx="921.0" cy="584.3" r="4.65"/><circle cx="921.4" cy="582.4" r="4.65"/><circle cx="922.7" cy="581.5" r="4.65"/><circle cx="925.0" cy="579.4" r="4.65"/><circle cx="925.9" cy="581.5" r="4.65"/><circle cx="928.0" cy="579.4" r="4.65"/><circle cx="928.7" cy="576.9" r="4.65"/><circle cx="930.3" cy="575.6" r="4.65"/><circle cx="931.6" cy="576.2" r="4.65"/><circle cx="931.4" cy="576.4" r="4.65"/><circle cx="932.6" cy="575.6" r="4.65"/><circle cx="933.3" cy="576.2" r="4.65"/><circle cx="934.8" cy="572.9" r="4.65"/><circle cx="936.2" cy="571.9" r="4.65"/><circle cx="938.1" cy="572.6" r="4.65"/><circle cx="940.4" cy="569.8" r="4.65"/><circle cx="941.0" cy="572.3" r="4.65"/><circle cx="941.8" cy="572.0" r="4.65"/><circle cx="944.2" cy="567.4" r="4.65"/><circle cx="945.1" cy="569.9" r="4.65"/><circle cx="945.8" cy="569.2" r="4.65"/><circle cx="946.7" cy="568.9" r="4.65"/><circle cx="948.4" cy="568.5" r="4.65"/><circle cx="949.6" cy="564.1" r="4.65"/><circle cx="950.0" cy="566.4" r="4.65"/><circle cx="951.9" cy="565.7" r="4.65"/><circle cx="952.5" cy="566.7" r="4.65"/><circle cx="953.7" cy="562.7" r="4.65"/><circle cx="955.9" cy="562.1" r="4.65"/><circle cx="957.5" cy="562.6" r="4.65"/><circle cx="958.7" cy="563.4" r="4.65"/><circle cx="958.8" cy="562.8" r="4.65"/><circle cx="960.5" cy="559.3" r="4.65"/><circle cx="962.1" cy="559.9" r="4.65"/><circle cx="963.4" cy="556.8" r="4.65"/><circle cx="965.5" cy="556.1" r="4.65"/><circle cx="966.6" cy="556.6" r="4.65"/><circle cx="967.7" cy="556.7" r="4.65"/><circle cx="969.0" cy="557.5" r="4.65"/><circle cx="969.4" cy="556.2" r="4.65"/><circle cx="970.9" cy="555.4" r="4.65"/><circle cx="972.1" cy="555.4" r="4.65"/><circle cx="973.0" cy="552.0" r="4.65"/><circle cx="975.2" cy="553.9" r="4.65"/><circle cx="976.2" cy="549.3" r="4.65"/><circle cx="976.6" cy="553.0" r="4.65"/><circle cx="977.5" cy="548.5" r="4.65"/><circle cx="979.2" cy="551.4" r="4.65"/><circle cx="979.9" cy="550.2" r="4.65"/><circle cx="981.1" cy="548.6" r="4.65"/><circle cx="981.5" cy="548.5" r="4.65"/><circle cx="982.6" cy="547.1" r="4.65"/><circle cx="983.1" cy="547.8" r="4.65"/><circle cx="984.6" cy="545.7" r="4.65"/><circle cx="986.2" cy="545.6" r="4.65"/><circle cx="986.9" cy="545.9" r="4.65"/><circle cx="988.0" cy="543.1" r="4.65"/><circle cx="989.8" cy="544.4" r="4.65"/><circle cx="991.8" cy="544.9" r="4.65"/><circle cx="993.5" cy="542.1" r="4.65"/><circle cx="994.8" cy="539.4" r="4.65"/><circle cx="996.0" cy="542.2" r="4.65"/><circle cx="997.2" cy="538.5" r="4.65"/><circle cx="999.0" cy="540.0" r="4.65"/><circle cx="999.9" cy="536.5" r="4.65"/><circle cx="1001.0" cy="537.2" r="4.65"/><circle cx="1002.0" cy="535.2" r="4.65"/><circle cx="1004.0" cy="536.0" r="4.65"/><circle cx="1005.4" cy="536.8" r="4.65"/><circle cx="1006.2" cy="536.6" r="4.65"/><circle cx="1008.2" cy="534.5" r="4.65"/><circle cx="1009.4" cy="534.0" r="4.65"/><circle cx="1010.2" cy="531.6" r="4.65"/><circle cx="1011.8" cy="530.8" r="4.65"/><circle cx="1011.9" cy="532.9" r="4.65"/><circle cx="1012.6" cy="530.8" r="4.65"/><circle cx="1014.7" cy="529.3" r="4.65"/><circle cx="1014.5" cy="532.0" r="4.65"/><circle cx="1016.1" cy="528.7" r="4.65"/><circle cx="1018.8" cy="527.5" r="4.65"/><circle cx="1021.0" cy="528.6" r="4.65"/><circle cx="1022.8" cy="524.9" r="4.65"/><circle cx="1023.9" cy="526.2" r="4.65"/><circle cx="1025.2" cy="523.5" r="4.65"/><circle cx="1026.7" cy="522.5" r="4.65"/><circle cx="1027.3" cy="522.9" r="4.65"/><circle cx="1029.6" cy="522.8" r="4.65"/><circle cx="1031.1" cy="519.8" r="4.65"/><circle cx="1032.6" cy="519.3" r="4.65"/><circle cx="1034.0" cy="521.6" r="4.65"/><circle cx="1034.9" cy="517.7" r="4.65"/><circle cx="1036.4" cy="520.6" r="4.65"/><circle cx="1037.5" cy="518.7" r="4.65"/><circle cx="1037.6" cy="517.3" r="4.65"/><circle cx="1038.2" cy="518.8" r="4.65"/><circle cx="1040.4" cy="516.4" r="4.65"/><circle cx="1042.5" cy="516.1" r="4.65"/><circle cx="1042.9" cy="514.0" r="4.65"/><circle cx="1042.9" cy="513.6" r="4.65"/><circle cx="1044.4" cy="515.7" r="4.65"/><circle cx="1045.0" cy="515.5" r="4.65"/><circle cx="1045.6" cy="513.4" r="4.65"/><circle cx="1047.0" cy="511.5" r="4.65"/><circle cx="1048.0" cy="510.3" r="4.65"/><circle cx="1049.4" cy="513.4" r="4.65"/><circle cx="1049.3" cy="512.5" r="4.65"/><circle cx="1051.5" cy="508.5" r="4.65"/><circle cx="1052.1" cy="509.7" r="4.65"/><circle cx="1053.3" cy="511.1" r="4.65"/><circle cx="1054.6" cy="507.5" r="4.65"/><circle cx="1056.4" cy="508.0" r="4.65"/><circle cx="1056.6" cy="505.7" r="4.65"/><circle cx="1058.6" cy="505.0" r="4.65"/><circle cx="1059.4" cy="506.7" r="4.65"/><circle cx="1062.1" cy="504.7" r="4.65"/><circle cx="1062.8" cy="505.5" r="4.65"/><circle cx="1064.1" cy="504.3" r="4.65"/><circle cx="1065.3" cy="504.3" r="4.65"/><circle cx="1067.0" cy="500.4" r="4.65"/><circle cx="1067.9" cy="501.9" r="4.65"/><circle cx="1068.8" cy="500.3" r="4.65"/><circle cx="1071.1" cy="500.6" r="4.65"/><circle cx="1071.4" cy="499.7" r="4.65"/><circle cx="1071.5" cy="497.2" r="4.65"/><circle cx="1074.2" cy="497.9" r="4.65"/><circle cx="1074.4" cy="497.3" r="4.65"/><circle cx="1074.8" cy="497.6" r="4.65"/><circle cx="1075.6" cy="499.0" r="4.65"/><circle cx="1076.0" cy="499.1" r="4.65"/><circle cx="1077.9" cy="495.9" r="4.65"/><circle cx="1079.2" cy="496.0" r="4.65"/><circle cx="1079.9" cy="496.5" r="4.65"/><circle cx="1080.8" cy="493.5" r="4.65"/><circle cx="1082.7" cy="491.8" r="4.65"/><circle cx="1083.6" cy="492.8" r="4.65"/><circle cx="1085.2" cy="491.9" r="4.65"/><circle cx="1086.0" cy="491.7" r="4.65"/><circle cx="1087.8" cy="493.0" r="4.65"/><circle cx="1088.7" cy="489.5" r="4.65"/><circle cx="1090.1" cy="488.5" r="4.65"/><circle cx="1091.7" cy="489.8" r="4.65"/><circle cx="1092.4" cy="489.4" r="4.65"/><circle cx="1094.4" cy="487.1" r="4.65"/><circle cx="1094.5" cy="487.4" r="4.65"/><circle cx="1095.9" cy="488.0" r="4.65"/><circle cx="1097.9" cy="484.8" r="4.65"/><circle cx="1099.8" cy="485.2" r="4.65"/><circle cx="1099.9" cy="484.0" r="4.65"/><circle cx="1102.4" cy="485.2" r="4.65"/><circle cx="1103.9" cy="482.1" r="4.65"/><circle cx="1105.6" cy="481.5" r="4.65"/><circle cx="1106.6" cy="479.4" r="4.65"/><circle cx="1107.9" cy="478.9" r="4.65"/><circle cx="1109.1" cy="480.2" r="4.65"/><circle cx="1109.9" cy="477.4" r="4.65"/><circle cx="1111.7" cy="476.5" r="4.65"/><circle cx="1113.1" cy="478.6" r="4.65"/><circle cx="1114.8" cy="475.2" r="4.65"/><circle cx="1116.0" cy="474.5" r="4.65"/><circle cx="1117.7" cy="473.6" r="4.65"/><circle cx="1118.5" cy="474.2" r="4.65"/><circle cx="1120.5" cy="475.1" r="4.65"/><circle cx="1120.8" cy="474.5" r="4.65"/><circle cx="1123.2" cy="472.9" r="4.65"/><circle cx="1124.0" cy="471.2" r="4.65"/><circle cx="1125.5" cy="472.1" r="4.65"/><circle cx="1128.2" cy="468.6" r="4.65"/><circle cx="1127.9" cy="469.1" r="4.65"/><circle cx="1130.6" cy="468.0" r="4.65"/><circle cx="1132.3" cy="469.2" r="4.65"/><circle cx="1132.8" cy="468.0" r="4.65"/><circle cx="1133.9" cy="469.0" r="4.65"/><circle cx="1133.6" cy="467.1" r="4.65"/><circle cx="1135.1" cy="467.3" r="4.65"/><circle cx="1135.8" cy="466.7" r="4.65"/><circle cx="1137.0" cy="465.8" r="4.65"/><circle cx="1138.2" cy="466.5" r="4.65"/><circle cx="1139.8" cy="463.7" r="4.65"/><circle cx="1141.5" cy="461.6" r="4.65"/><circle cx="1142.9" cy="462.9" r="4.65"/><circle cx="1144.6" cy="462.6" r="4.65"/><circle cx="1145.6" cy="461.4" r="4.65"/><circle cx="1146.2" cy="460.9" r="4.65"/><circle cx="1146.9" cy="461.6" r="4.65"/><circle cx="1148.9" cy="460.8" r="4.65"/><circle cx="1150.0" cy="460.0" r="4.65"/><circle cx="1152.3" cy="459.7" r="4.65"/><circle cx="1154.5" cy="456.5" r="4.65"/><circle cx="1155.1" cy="456.9" r="4.65"/><circle cx="1158.0" cy="455.3" r="4.65"/><circle cx="1158.2" cy="452.1" r="4.65"/><circle cx="1161.3" cy="454.1" r="4.65"/><circle cx="1162.4" cy="451.9" r="4.65"/><circle cx="1162.8" cy="452.1" r="4.65"/><circle cx="1164.6" cy="448.8" r="4.65"/><circle cx="1166.6" cy="450.2" r="4.65"/><circle cx="1167.8" cy="448.3" r="4.65"/><circle cx="1169.5" cy="447.9" r="4.65"/><circle cx="1170.3" cy="449.2" r="4.65"/><circle cx="1171.7" cy="449.4" r="4.65"/><circle cx="1174.8" cy="448.3" r="4.65"/><circle cx="1176.3" cy="445.7" r="4.65"/><circle cx="1177.6" cy="446.4" r="4.65"/><circle cx="1179.0" cy="442.1" r="4.65"/><circle cx="1182.4" cy="441.3" r="4.65"/><circle cx="1183.3" cy="439.8" r="4.65"/><circle cx="1186.1" cy="440.6" r="4.65"/><circle cx="1187.0" cy="441.4" r="4.65"/><circle cx="1188.8" cy="440.7" r="4.65"/><circle cx="1191.5" cy="439.8" r="4.65"/><circle cx="1194.0" cy="436.1" r="4.65"/><circle cx="1195.8" cy="437.3" r="4.65"/><circle cx="1198.5" cy="434.2" r="4.65"/><circle cx="1199.4" cy="434.8" r="4.65"/><circle cx="1201.5" cy="433.4" r="4.65"/><circle cx="1202.3" cy="433.6" r="4.65"/><circle cx="1203.3" cy="430.8" r="4.65"/><circle cx="1205.1" cy="432.8" r="4.65"/><circle cx="1206.8" cy="428.9" r="4.65"/><circle cx="1208.1" cy="431.2" r="4.65"/><circle cx="1211.7" cy="427.1" r="4.65"/><circle cx="1211.9" cy="425.7" r="4.65"/><circle cx="1212.6" cy="428.2" r="4.65"/><circle cx="1213.9" cy="428.0" r="4.65"/><circle cx="1216.9" cy="423.9" r="4.65"/><circle cx="1218.4" cy="424.1" r="4.65"/><circle cx="1219.6" cy="423.2" r="4.65"/><circle cx="1222.2" cy="424.5" r="4.65"/><circle cx="1224.5" cy="419.6" r="4.65"/><circle cx="1225.0" cy="423.4" r="4.65"/><circle cx="1226.2" cy="421.3" r="4.65"/><circle cx="1227.5" cy="421.6" r="4.65"/><circle cx="1230.3" cy="419.3" r="4.65"/><circle cx="1231.9" cy="419.2" r="4.65"/><circle cx="1232.5" cy="416.1" r="4.65"/><circle cx="1234.4" cy="418.4" r="4.65"/><circle cx="1235.5" cy="415.4" r="4.65"/><circle cx="1237.2" cy="415.9" r="4.65"/><circle cx="1239.7" cy="412.9" r="4.65"/><circle cx="1242.2" cy="413.4" r="4.65"/><circle cx="1247.6" cy="410.6" r="4.65"/><circle cx="1250.0" cy="408.1" r="4.65"/><circle cx="1253.6" cy="406.3" r="4.65"/><circle cx="1256.8" cy="406.8" r="4.65"/><circle cx="1260.1" cy="402.7" r="4.65"/><circle cx="1262.9" cy="402.5" r="4.65"/><circle cx="1266.1" cy="403.8" r="4.65"/><circle cx="1283.5" cy="396.2" r="4.65"/><circle cx="1288.4" cy="392.9" r="4.65"/><circle cx="1291.2" cy="389.5" r="4.65"/><circle cx="1292.9" cy="388.4" r="4.65"/><circle cx="1297.4" cy="386.8" r="4.65"/><circle cx="1299.4" cy="385.3" r="4.65"/><circle cx="1305.1" cy="383.1" r="4.65"/><circle cx="1308.9" cy="381.5" r="4.65"/><circle cx="1311.7" cy="380.3" r="4.65"/><circle cx="1313.7" cy="379.1" r="4.65"/><circle cx="1318.3" cy="378.0" r="4.65"/><circle cx="1319.7" cy="379.4" r="4.65"/><circle cx="1324.5" cy="376.0" r="4.65"/><circle cx="1329.5" cy="373.4" r="4.65"/><circle cx="1331.8" cy="373.5" r="4.65"/><circle cx="1333.9" cy="371.1" r="4.65"/><circle cx="169.5" cy="946.2" r="4.65"/><circle cx="204.2" cy="932.5" r="4.65"/><circle cx="257.5" cy="914.2" r="4.65"/><circle cx="347.0" cy="879.5" r="4.65"/><circle cx="357.0" cy="874.5" r="4.65"/><circle cx="368.2" cy="870.0" r="4.65"/><circle cx="403.0" cy="856.2" r="4.65"/><circle cx="413.0" cy="850.0" r="4.65"/><circle cx="417.0" cy="849.0" r="4.65"/><circle cx="425.8" cy="844.5" r="4.65"/><circle cx="433.8" cy="841.2" r="4.65"/><circle cx="440.5" cy="839.5" r="4.65"/><circle cx="451.5" cy="833.0" r="4.65"/><circle cx="461.0" cy="828.4" r="4.65"/><circle cx="505.0" cy="807.6" r="4.65"/><circle cx="509.0" cy="806.0" r="4.65"/><circle cx="513.4" cy="804.3" r="4.65"/><circle cx="517.0" cy="802.5" r="4.65"/><circle cx="520.9" cy="801.0" r="4.65"/><circle cx="1349.0" cy="365.5" r="4.65"/><circle cx="1353.0" cy="364.5" r="4.65"/><circle cx="1356.0" cy="363.5" r="4.65"/><circle cx="1397.0" cy="347.5" r="4.65"/><circle cx="1441.2" cy="331.5" r="4.65"/><circle cx="1468.6" cy="320.0" r="4.65"/><circle cx="1476.1" cy="317.5" r="4.65"/><circle cx="1487.4" cy="313.1" r="4.65"/></g>
<g fill="#f00" stroke="none"><circle cx="494.5" cy="2139.0" r="4.8"/><circle cx="498.0" cy="2135.4" r="4.8"/><circle cx="502.3" cy="2134.0" r="4.8"/><circle cx="506.7" cy="2133.1" r="4.8"/><circle cx="508.3" cy="2131.3" r="4.8"/><circle cx="510.9" cy="2130.7" r="4.8"/><circle cx="514.8" cy="2129.9" r="4.8"/><circle cx="515.6" cy="2130.5" r="4.8"/><circle cx="519.5" cy="2127.3" r="4.8"/><circle cx="523.9" cy="2125.5" r="4.8"/><circle cx="527.1" cy="2124.9" r="4.8"/><circle cx="528.7" cy="2124.5" r="4.8"/><circle cx="531.1" cy="2122.8" r="4.8"/><circle cx="533.0" cy="2125.0" r="4.8"/><circle cx="535.0" cy="2120.8" r="4.8"/><circle cx="538.4" cy="2120.3" r="4.8"/><circle cx="541.0" cy="2118.1" r="4.8"/><circle cx="546.2" cy="2119.6" r="4.8"/><circle cx="550.5" cy="2116.6" r="4.8"/><circle cx="553.4" cy="2116.8" r="4.8"/><circle cx="558.4" cy="2114.8" r="4.8"/><circle cx="560.2" cy="2113.1" r="4.8"/><circle cx="562.2" cy="2110.0" r="4.8"/><circle cx="563.2" cy="2109.1" r="4.8"/><circle cx="564.3" cy="2112.7" r="4.8"/><circle cx="564.4" cy="2109.1" r="4.8"/><circle cx="565.2" cy="2109.8" r="4.8"/><circle cx="566.7" cy="2108.3" r="4.8"/><circle cx="568.4" cy="2109.3" r="4.8"/><circle cx="570.6" cy="2106.3" r="4.8"/><circle cx="571.3" cy="2106.7" r="4.8"/><circle cx="572.8" cy="2107.4" r="4.8"/><circle cx="573.5" cy="2108.1" r="4.8"/><circle cx="573.9" cy="2105.7" r="4.8"/><circle cx="575.0" cy="2107.6" r="4.8"/><circle cx="576.7" cy="2104.2" r="4.8"/><circle cx="576.7" cy="2105.1" r="4.8"/><circle cx="578.5" cy="2105.3" r="4.8"/><circle cx="578.5" cy="2103.9" r="4.8"/><circle cx="580.7" cy="2102.6" r="4.8"/><circle cx="580.9" cy="2104.3" r="4.8"/><circle cx="582.0" cy="2104.5" r="4.8"/><circle cx="583.5" cy="2101.5" r="4.8"/><circle cx="585.4" cy="2102.1" r="4.8"/><circle cx="586.5" cy="2099.6" r="4.8"/><circle cx="588.6" cy="2101.9" r="4.8"/><circle cx="590.0" cy="2099.3" r="4.8"/><circle cx="590.6" cy="2101.4" r="4.8"/><circle cx="591.9" cy="2100.1" r="4.8"/><circle cx="593.4" cy="2099.4" r="4.8"/><circle cx="594.9" cy="2096.3" r="4.8"/><circle cx="596.2" cy="2098.5" r="4.8"/><circle cx="597.8" cy="2095.1" r="4.8"/><circle cx="597.5" cy="2096.9" r="4.8"/><circle cx="599.2" cy="2094.2" r="4.8"/><circle cx="600.0" cy="2094.5" r="4.8"/><circle cx="601.0" cy="2094.6" r="4.8"/><circle cx="601.9" cy="2095.5" r="4.8"/><circle cx="603.1" cy="2093.6" r="4.8"/><circle cx="605.1" cy="2092.3" r="4.8"/><circle cx="606.5" cy="2091.4" r="4.8"/><circle cx="608.3" cy="2091.0" r="4.8"/><circle cx="609.9" cy="2092.7" r="4.8"/><circle cx="611.4" cy="2088.5" r="4.8"/><circle cx="612.4" cy="2088.9" r="4.8"/><circle cx="612.9" cy="2089.7" r="4.8"/><circle cx="614.0" cy="2088.7" r="4.8"/><circle cx="614.9" cy="2089.3" r="4.8"/><circle cx="615.5" cy="2087.7" r="4.8"/><circle cx="617.5" cy="2087.2" r="4.8"/><circle cx="618.1" cy="2087.7" r="4.8"/><circle cx="619.9" cy="2086.3" r="4.8"/><circle cx="621.0" cy="2087.5" r="4.8"/><circle cx="622.8" cy="2084.7" r="4.8"/><circle cx="624.7" cy="2083.1" r="4.8"/><circle cx="625.1" cy="2084.1" r="4.8"/><circle cx="626.6" cy="2084.9" r="4.8"/><circle cx="628.9" cy="2084.5" r="4.8"/><circle cx="631.1" cy="2080.2" r="4.8"/><circle cx="632.0" cy="2082.2" r="4.8"/><circle cx="632.3" cy="2081.0" r="4.8"/><circle cx="633.9" cy="2079.5" r="4.8"/><circle cx="635.0" cy="2078.8" r="4.8"/><circle cx="636.6" cy="2078.2" r="4.8"/><circle cx="637.3" cy="2080.0" r="4.8"/><circle cx="639.4" cy="2078.2" r="4.8"/><circle cx="640.4" cy="2075.4" r="4.8"/><circle cx="642.7" cy="2075.9" r="4.8"/><circle cx="643.7" cy="2075.4" r="4.8"/><circle cx="644.5" cy="2076.2" r="4.8"/><circle cx="644.7" cy="2073.4" r="4.8"/><circle cx="645.5" cy="2073.5" r="4.8"/><circle cx="647.3" cy="2072.9" r="4.8"/><circle cx="648.5" cy="2073.3" r="4.8"/><circle cx="649.8" cy="2072.2" r="4.8"/><circle cx="650.9" cy="2073.2" r="4.8"/><circle cx="652.2" cy="2073.7" r="4.8"/><circle cx="653.0" cy="2073.2" r="4.8"/><circle cx="653.6" cy="2069.2" r="4.8"/><circle cx="654.1" cy="2072.5" r="4.8"/><circle cx="655.0" cy="2071.9" r="4.8"/><circle cx="657.4" cy="2067.9" r="4.8"/><circle cx="658.6" cy="2068.2" r="4.8"/><circle cx="659.8" cy="2069.4" r="4.8"/><circle cx="660.7" cy="2069.4" r="4.8"/><circle cx="663.0" cy="2066.3" r="4.8"/><circle cx="664.2" cy="2065.5" r="4.8"/><circle cx="665.6" cy="2065.4" r="4.8"/><circle cx="666.9" cy="2063.7" r="4.8"/><circle cx="667.7" cy="2066.0" r="4.8"/><circle cx="669.3" cy="2063.6" r="4.8"/><circle cx="671.2" cy="2064.7" r="4.8"/><circle cx="672.6" cy="2064.2" r="4.8"/><circle cx="673.1" cy="2062.3" r="4.8"/><circle cx="675.3" cy="2059.9" r="4.8"/><circle cx="676.0" cy="2061.1" r="4.8"/><circle cx="677.6" cy="2060.8" r="4.8"/><circle cx="679.9" cy="2057.7" r="4.8"/><circle cx="679.8" cy="2059.2" r="4.8"/><circle cx="681.1" cy="2057.5" r="4.8"/><circle cx="683.0" cy="2058.2" r="4.8"/><circle cx="683.8" cy="2059.0" r="4.8"/><circle cx="685.2" cy="2055.9" r="4.8"/><circle cx="687.0" cy="2056.5" r="4.8"/><circle cx="687.6" cy="2056.8" r="4.8"/><circle cx="689.3" cy="2055.0" r="4.8"/><circle cx="690.5" cy="2055.5" r="4.8"/><circle cx="691.2" cy="2055.5" r="4.8"/><circle cx="691.6" cy="2051.2" r="4.8"/><circle cx="692.4" cy="2053.0" r="4.8"/><circle cx="693.6" cy="2050.6" r="4.8"/><circle cx="695.4" cy="2051.6" r="4.8"/><circle cx="697.0" cy="2051.6" r="4.8"/><circle cx="698.0" cy="2051.6" r="4.8"/><circle cx="699.2" cy="2049.7" r="4.8"/><circle cx="700.8" cy="2047.6" r="4.8"/><circle cx="701.9" cy="2047.6" r="4.8"/><circle cx="704.1" cy="2045.8" r="4.8"/><circle cx="705.5" cy="2045.0" r="4.8"/><circle cx="707.2" cy="2046.1" r="4.8"/><circle cx="708.3" cy="2044.2" r="4.8"/><circle cx="710.2" cy="2042.7" r="4.8"/><circle cx="711.8" cy="2042.2" r="4.8"/><circle cx="712.6" cy="2043.7" r="4.8"/><circle cx="714.8" cy="2042.6" r="4.8"/><circle cx="715.9" cy="2041.4" r="4.8"/><circle cx="717.7" cy="2040.1" r="4.8"/><circle cx="718.4" cy="2039.5" r="4.8"/><circle cx="719.9" cy="2038.6" r="4.8"/><circle cx="720.5" cy="2038.4" r="4.8"/><circle cx="723.1" cy="2039.4" r="4.8"/><circle cx="723.7" cy="2037.0" r="4.8"/><circle cx="725.6" cy="2038.0" r="4.8"/><circle cx="726.8" cy="2036.6" r="4.8"/><circle cx="728.9" cy="2034.7" r="4.8"/><circle cx="729.8" cy="2034.8" r="4.8"/><circle cx="731.9" cy="2032.8" r="4.8"/><circle cx="733.2" cy="2034.7" r="4.8"/><circle cx="733.9" cy="2030.6" r="4.8"/><circle cx="735.0" cy="2033.7" r="4.8"/><circle cx="735.0" cy="2032.3" r="4.8"/><circle cx="735.7" cy="2031.5" r="4.8"/><circle cx="737.8" cy="2031.0" r="4.8"/><circle cx="739.9" cy="2030.0" r="4.8"/><circle cx="740.3" cy="2027.4" r="4.8"/><circle cx="741.7" cy="2027.5" r="4.8"/><circle cx="742.9" cy="2026.6" r="4.8"/><circle cx="744.7" cy="2026.8" r="4.8"/><circle cx="746.5" cy="2026.3" r="4.8"/><circle cx="747.1" cy="2026.7" r="4.8"/><circle cx="749.5" cy="2025.1" r="4.8"/><circle cx="749.8" cy="2024.0" r="4.8"/><circle cx="751.3" cy="2023.9" r="4.8"/><circle cx="752.8" cy="2022.8" r="4.8"/><circle cx="753.6" cy="2023.8" r="4.8"/><circle cx="754.0" cy="2022.7" r="4.8"/><circle cx="755.8" cy="2020.6" r="4.8"/><circle cx="757.4" cy="2020.0" r="4.8"/><circle cx="758.8" cy="2018.8" r="4.8"/><circle cx="760.2" cy="2019.6" r="4.8"/><circle cx="760.9" cy="2017.4" r="4.8"/><circle cx="762.8" cy="2018.8" r="4.8"/><circle cx="765.1" cy="2016.5" r="4.8"/><circle cx="767.0" cy="2016.9" r="4.8"/><circle cx="768.4" cy="2015.1" r="4.8"/><circle cx="770.0" cy="2014.1" r="4.8"/><circle cx="771.2" cy="2014.1" r="4.8"/><circle cx="771.1" cy="2015.1" r="4.8"/><circle cx="771.1" cy="2011.6" r="4.8"/><circle cx="772.6" cy="2014.7" r="4.8"/><circle cx="772.7" cy="2010.6" r="4.8"/><circle cx="773.4" cy="2012.4" r="4.8"/><circle cx="774.8" cy="2011.7" r="4.8"/><circle cx="775.8" cy="2009.3" r="4.8"/><circle cx="777.4" cy="2009.5" r="4.8"/><circle cx="777.8" cy="2009.5" r="4.8"/><circle cx="779.1" cy="2008.9" r="4.8"/><circle cx="779.2" cy="2008.8" r="4.8"/><circle cx="780.4" cy="2008.0" r="4.8"/><circle cx="782.3" cy="2006.9" r="4.8"/><circle cx="784.2" cy="2008.8" r="4.8"/><circle cx="785.4" cy="2007.4" r="4.8"/><circle cx="787.4" cy="2003.5" r="4.8"/><circle cx="788.2" cy="2005.9" r="4.8"/><circle cx="789.2" cy="2002.4" r="4.8"/><circle cx="791.0" cy="2004.1" r="4.8"/><circle cx="791.6" cy="2003.1" r="4.8"/><circle cx="792.8" cy="2001.4" r="4.8"/><circle cx="794.8" cy="2001.6" r="4.8"/><circle cx="797.4" cy="1998.4" r="4.8"/><circle cx="797.3" cy="1999.2" r="4.8"/><circle cx="798.0" cy="1999.7" r="4.8"/><circle cx="799.8" cy="1997.9" r="4.8"/><circle cx="800.1" cy="2000.1" r="4.8"/><circle cx="801.1" cy="1999.4" r="4.8"/><circle cx="803.4" cy="1997.4" r="4.8"/><circle cx="803.8" cy="1995.4" r="4.8"/><circle cx="805.5" cy="1996.9" r="4.8"/><circle cx="808.0" cy="1992.7" r="4.8"/><circle cx="808.3" cy="1992.9" r="4.8"/><circle cx="810.3" cy="1993.4" r="4.8"/><circle cx="812.4" cy="1993.0" r="4.8"/><circle cx="812.3" cy="1991.2" r="4.8"/><circle cx="814.1" cy="1992.6" r="4.8"/><circle cx="815.4" cy="1988.9" r="4.8"/><circle cx="816.8" cy="1988.4" r="4.8"/><circle cx="817.2" cy="1988.5" r="4.8"/><circle cx="818.8" cy="1988.3" r="4.8"/><circle cx="820.9" cy="1989.3" r="4.8"/><circle cx="822.0" cy="1986.8" r="4.8"/><circle cx="824.3" cy="1984.2" r="4.8"/><circle cx="825.1" cy="1983.9" r="4.8"/><circle cx="826.6" cy="1983.5" r="4.8"/><circle cx="828.9" cy="1982.1" r="4.8"/><circle cx="830.6" cy="1982.4" r="4.8"/><circle cx="831.0" cy="1983.5" r="4.8"/><circle cx="831.5" cy="1980.8" r="4.8"/><circle cx="833.3" cy="1980.6" r="4.8"/><circle cx="834.1" cy="1978.9" r="4.8"/><circle cx="834.9" cy="1980.5" r="4.8"/><circle cx="837.2" cy="1979.9" r="4.8"/><circle cx="838.1" cy="1976.8" r="4.8"/><circle cx="839.5" cy="1976.9" r="4.8"/><circle cx="839.9" cy="1975.7" r="4.8"/><circle cx="842.1" cy="1975.0" r="4.8"/><circle cx="842.5" cy="1977.0" r="4.8"/><circle cx="843.5" cy="1976.1" r="4.8"/><circle cx="844.5" cy="1974.0" r="4.8"/><circle cx="846.0" cy="1974.1" r="4.8"/><circle cx="847.1" cy="1971.4" r="4.8"/><circle cx="848.3" cy="1970.9" r="4.8"/><circle cx="849.7" cy="1972.0" r="4.8"/><circle cx="850.3" cy="1972.6" r="4.8"/><circle cx="851.6" cy="1970.4" r="4.8"/><circle cx="852.0" cy="1970.1" r="4.8"/><circle cx="853.7" cy="1970.0" r="4.8"/><circle cx="854.4" cy="1969.5" r="4.8"/><circle cx="855.0" cy="1969.2" r="4.8"/><circle cx="856.4" cy="1966.4" r="4.8"/><circle cx="857.6" cy="1968.4" r="4.8"/><circle cx="858.5" cy="1965.6" r="4.8"/><circle cx="859.6" cy="1966.3" r="4.8"/><circle cx="861.6" cy="1964.2" r="4.8"/><circle cx="861.4" cy="1963.6" r="4.8"/><circle cx="862.4" cy="1963.8" r="4.8"/><circle cx="863.0" cy="1965.1" r="4.8"/><circle cx="863.3" cy="1964.7" r="4.8"/><circle cx="865.0" cy="1963.1" r="4.8"/><circle cx="866.7" cy="1964.2" r="4.8"/><circle cx="867.3" cy="1963.9" r="4.8"/><circle cx="868.8" cy="1960.1" r="4.8"/><circle cx="870.5" cy="1960.2" r="4.8"/><circle cx="871.6" cy="1959.5" r="4.8"/><circle cx="871.9" cy="1959.9" r="4.8"/><circle cx="874.0" cy="1959.5" r="4.8"/><circle cx="875.0" cy="1956.6" r="4.8"/><circle cx="876.6" cy="1955.7" r="4.8"/><circle cx="877.6" cy="1955.3" r="4.8"/><circle cx="878.7" cy="1955.6" r="4.8"/><circle cx="881.1" cy="1952.8" r="4.8"/><circle cx="882.6" cy="1951.6" r="4.8"/><circle cx="883.8" cy="1951.9" r="4.8"/><circle cx="885.1" cy="1953.4" r="4.8"/><circle cx="885.3" cy="1952.2" r="4.8"/><circle cx="887.3" cy="1950.5" r="4.8"/><circle cx="888.7" cy="1948.9" r="4.8"/><circle cx="889.2" cy="1947.7" r="4.8"/><circle cx="890.7" cy="1947.1" r="4.8"/><circle cx="891.2" cy="1949.2" r="4.8"/><circle cx="893.2" cy="1947.4" r="4.8"/><circle cx="895.0" cy="1944.9" r="4.8"/><circle cx="896.1" cy="1944.4" r="4.8"/><circle cx="896.3" cy="1946.5" r="4.8"/><circle cx="898.1" cy="1946.3" r="4.8"/><circle cx="899.5" cy="1943.7" r="4.8"/><circle cx="901.5" cy="1942.7" r="4.8"/><circle cx="903.8" cy="1939.7" r="4.8"/><circle cx="905.6" cy="1941.5" r="4.8"/><circle cx="907.0" cy="1939.4" r="4.8"/><circle cx="909.1" cy="1937.9" r="4.8"/><circle cx="910.3" cy="1938.1" r="4.8"/><circle cx="911.9" cy="1938.4" r="4.8"/><circle cx="912.6" cy="1938.4" r="4.8"/><circle cx="914.3" cy="1934.5" r="4.8"/><circle cx="915.5" cy="1932.7" r="4.8"/><circle cx="917.2" cy="1932.0" r="4.8"/><circle cx="918.8" cy="1933.6" r="4.8"/><circle cx="919.8" cy="1931.7" r="4.8"/><circle cx="920.7" cy="1930.6" r="4.8"/><circle cx="921.6" cy="1929.4" r="4.8"/><circle cx="922.9" cy="1930.5" r="4.8"/><circle cx="924.1" cy="1930.9" r="4.8"/><circle cx="925.4" cy="1928.4" r="4.8"/><circle cx="926.3" cy="1927.2" r="4.8"/><circle cx="928.5" cy="1926.3" r="4.8"/><circle cx="929.0" cy="1926.9" r="4.8"/><circle cx="931.1" cy="1926.9" r="4.8"/><circle cx="933.5" cy="1925.2" r="4.8"/><circle cx="934.7" cy="1924.9" r="4.8"/><circle cx="934.8" cy="1923.6" r="4.8"/><circle cx="936.4" cy="1921.2" r="4.8"/><circle cx="938.5" cy="1919.6" r="4.8"/><circle cx="939.1" cy="1919.6" r="4.8"/><circle cx="941.2" cy="1918.8" r="4.8"/><circle cx="942.4" cy="1918.4" r="4.8"/><circle cx="944.5" cy="1918.3" r="4.8"/><circle cx="945.1" cy="1917.4" r="4.8"/><circle cx="945.6" cy="1916.8" r="4.8"/><circle cx="948.4" cy="1914.9" r="4.8"/><circle cx="948.6" cy="1915.1" r="4.8"/><circle cx="948.9" cy="1913.0" r="4.8"/><circle cx="951.0" cy="1913.4" r="4.8"/><circle cx="952.0" cy="1913.1" r="4.8"/><circle cx="953.9" cy="1911.2" r="4.8"/><circle cx="954.2" cy="1912.2" r="4.8"/><circle cx="956.5" cy="1908.9" r="4.8"/><circle cx="956.8" cy="1910.3" r="4.8"/><circle cx="958.8" cy="1907.9" r="4.8"/><circle cx="959.2" cy="1909.8" r="4.8"/><circle cx="960.6" cy="1907.2" r="4.8"/><circle cx="960.8" cy="1907.3" r="4.8"/><circle cx="961.6" cy="1907.0" r="4.8"/><circle cx="963.1" cy="1905.0" r="4.8"/><circle cx="964.7" cy="1904.1" r="4.8"/><circle cx="965.0" cy="1904.1" r="4.8"/><circle cx="965.7" cy="1906.4" r="4.8"/><circle cx="968.4" cy="1905.5" r="4.8"/><circle cx="969.9" cy="1900.7" r="4.8"/><circle cx="972.1" cy="1903.0" r="4.8"/><circle cx="972.4" cy="1902.2" r="4.8"/><circle cx="973.3" cy="1901.2" r="4.8"/><circle cx="974.6" cy="1901.5" r="4.8"/><circle cx="975.6" cy="1897.6" r="4.8"/><circle cx="975.6" cy="1898.2" r="4.8"/><circle cx="976.8" cy="1896.7" r="4.8"/><circle cx="977.3" cy="1897.7" r="4.8"/><circle cx="977.7" cy="1897.6" r="4.8"/><circle cx="980.4" cy="1894.8" r="4.8"/><circle cx="981.7" cy="1895.8" r="4.8"/><circle cx="981.7" cy="1897.3" r="4.8"/><circle cx="983.5" cy="1894.2" r="4.8"/><circle cx="984.2" cy="1895.5" r="4.8"/><circle cx="985.3" cy="1892.0" r="4.8"/><circle cx="986.3" cy="1890.9" r="4.8"/><circle cx="988.1" cy="1891.8" r="4.8"/><circle cx="989.4" cy="1892.5" r="4.8"/><circle cx="990.6" cy="1889.3" r="4.8"/><circle cx="991.7" cy="1889.5" r="4.8"/><circle cx="993.2" cy="1887.4" r="4.8"/><circle cx="995.2" cy="1888.2" r="4.8"/><circle cx="995.7" cy="1888.8" r="4.8"/><circle cx="996.4" cy="1885.6" r="4.8"/><circle cx="996.8" cy="1885.7" r="4.8"/><circle cx="999.2" cy="1885.6" r="4.8"/><circle cx="1001.7" cy="1882.6" r="4.8"/><circle cx="1002.4" cy="1882.4" r="4.8"/><circle cx="1004.1" cy="1880.4" r="4.8"/><circle cx="1005.3" cy="1880.9" r="4.8"/><circle cx="1006.4" cy="1878.7" r="4.8"/><circle cx="1007.6" cy="1878.8" r="4.8"/><circle cx="1009.3" cy="1879.3" r="4.8"/><circle cx="1009.5" cy="1878.5" r="4.8"/><circle cx="1011.1" cy="1876.4" r="4.8"/><circle cx="1012.1" cy="1875.6" r="4.8"/><circle cx="1012.3" cy="1876.6" r="4.8"/><circle cx="1013.4" cy="1876.7" r="4.8"/><circle cx="1015.0" cy="1876.2" r="4.8"/><circle cx="1016.4" cy="1874.1" r="4.8"/><circle cx="1018.4" cy="1874.5" r="4.8"/><circle cx="1020.3" cy="1872.0" r="4.8"/><circle cx="1021.4" cy="1872.4" r="4.8"/><circle cx="1023.2" cy="1869.5" r="4.8"/><circle cx="1025.7" cy="1867.6" r="4.8"/><circle cx="1027.3" cy="1866.7" r="4.8"/><circle cx="1028.1" cy="1866.8" r="4.8"/><circle cx="1029.7" cy="1865.8" r="4.8"/><circle cx="1030.4" cy="1865.3" r="4.8"/><circle cx="1032.1" cy="1863.1" r="4.8"/><circle cx="1032.2" cy="1862.8" r="4.8"/><circle cx="1034.7" cy="1862.9" r="4.8"/><circle cx="1036.0" cy="1861.1" r="4.8"/><circle cx="1037.0" cy="1863.5" r="4.8"/><circle cx="1038.4" cy="1859.5" r="4.8"/><circle cx="1039.8" cy="1861.3" r="4.8"/><circle cx="1041.1" cy="1858.0" r="4.8"/><circle cx="1041.3" cy="1857.1" r="4.8"/><circle cx="1043.3" cy="1857.7" r="4.8"/><circle cx="1044.5" cy="1856.2" r="4.8"/><circle cx="1046.4" cy="1853.7" r="4.8"/><circle cx="1046.9" cy="1856.0" r="4.8"/><circle cx="1048.6" cy="1855.7" r="4.8"/><circle cx="1051.1" cy="1854.7" r="4.8"/><circle cx="1052.5" cy="1849.8" r="4.8"/><circle cx="1053.9" cy="1849.7" r="4.8"/><circle cx="1055.1" cy="1848.0" r="4.8"/><circle cx="1056.9" cy="1850.7" r="4.8"/><circle cx="1058.4" cy="1847.0" r="4.8"/><circle cx="1060.3" cy="1848.1" r="4.8"/><circle cx="1060.7" cy="1844.7" r="4.8"/><circle cx="1062.1" cy="1844.9" r="4.8"/><circle cx="1063.5" cy="1843.0" r="4.8"/><circle cx="1064.5" cy="1843.3" r="4.8"/><circle cx="1066.6" cy="1841.4" r="4.8"/><circle cx="1066.9" cy="1841.7" r="4.8"/><circle cx="1068.5" cy="1842.7" r="4.8"/><circle cx="1069.1" cy="1842.5" r="4.8"/><circle cx="1070.6" cy="1838.9" r="4.8"/><circle cx="1071.7" cy="1838.1" r="4.8"/><circle cx="1072.8" cy="1839.5" r="4.8"/><circle cx="1074.3" cy="1836.0" r="4.8"/><circle cx="1076.3" cy="1837.5" r="4.8"/><circle cx="1078.2" cy="1834.9" r="4.8"/><circle cx="1077.8" cy="1836.2" r="4.8"/><circle cx="1079.4" cy="1835.2" r="4.8"/><circle cx="1080.5" cy="1831.4" r="4.8"/><circle cx="1083.1" cy="1832.7" r="4.8"/><circle cx="1083.5" cy="1831.8" r="4.8"/><circle cx="1084.7" cy="1829.4" r="4.8"/><circle cx="1085.6" cy="1829.3" r="4.8"/><circle cx="1087.4" cy="1828.0" r="4.8"/><circle cx="1087.6" cy="1828.5" r="4.8"/><circle cx="1089.2" cy="1826.9" r="4.8"/><circle cx="1090.5" cy="1829.1" r="4.8"/><circle cx="1090.3" cy="1826.7" r="4.8"/><circle cx="1092.4" cy="1824.9" r="4.8"/><circle cx="1092.9" cy="1823.4" r="4.8"/><circle cx="1094.1" cy="1822.8" r="4.8"/><circle cx="1096.4" cy="1821.5" r="4.8"/><circle cx="1098.3" cy="1823.4" r="4.8"/><circle cx="1099.0" cy="1822.0" r="4.8"/><circle cx="1101.5" cy="1818.5" r="4.8"/><circle cx="1102.3" cy="1819.1" r="4.8"/><circle cx="1103.5" cy="1817.5" r="4.8"/><circle cx="1105.1" cy="1817.7" r="4.8"/><circle cx="1106.7" cy="1815.8" r="4.8"/><circle cx="1109.0" cy="1814.5" r="4.8"/><circle cx="1109.4" cy="1816.1" r="4.8"/><circle cx="1111.1" cy="1813.7" r="4.8"/><circle cx="1111.8" cy="1813.3" r="4.8"/><circle cx="1113.6" cy="1811.8" r="4.8"/><circle cx="1114.7" cy="1809.3" r="4.8"/><circle cx="1116.3" cy="1810.9" r="4.8"/><circle cx="1118.1" cy="1808.2" r="4.8"/><circle cx="1118.7" cy="1806.7" r="4.8"/><circle cx="1119.7" cy="1806.8" r="4.8"/><circle cx="1121.4" cy="1805.3" r="4.8"/><circle cx="1122.5" cy="1807.0" r="4.8"/><circle cx="1124.5" cy="1805.6" r="4.8"/><circle cx="1125.9" cy="1801.9" r="4.8"/><circle cx="1128.0" cy="1800.6" r="4.8"/><circle cx="1128.7" cy="1801.3" r="4.8"/><circle cx="1129.3" cy="1799.8" r="4.8"/><circle cx="1130.7" cy="1800.7" r="4.8"/><circle cx="1132.2" cy="1799.1" r="4.8"/><circle cx="1133.8" cy="1799.4" r="4.8"/><circle cx="1134.8" cy="1796.1" r="4.8"/><circle cx="1136.8" cy="1794.2" r="4.8"/><circle cx="1138.7" cy="1796.9" r="4.8"/><circle cx="1139.6" cy="1795.2" r="4.8"/><circle cx="1140.6" cy="1795.1" r="4.8"/><circle cx="1141.2" cy="1790.9" r="4.8"/><circle cx="1142.0" cy="1792.1" r="4.8"/><circle cx="1142.8" cy="1793.5" r="4.8"/><circle cx="1144.6" cy="1791.1" r="4.8"/><circle cx="1146.7" cy="1789.1" r="4.8"/><circle cx="1147.9" cy="1789.6" r="4.8"/><circle cx="1148.6" cy="1787.1" r="4.8"/><circle cx="1149.4" cy="1786.5" r="4.8"/><circle cx="1151.0" cy="1784.6" r="4.8"/><circle cx="1153.6" cy="1783.9" r="4.8"/><circle cx="1155.1" cy="1781.8" r="4.8"/><circle cx="1156.2" cy="1783.4" r="4.8"/><circle cx="1156.6" cy="1784.1" r="4.8"/><circle cx="1158.6" cy="1780.0" r="4.8"/><circle cx="1160.4" cy="1779.4" r="4.8"/><circle cx="1162.1" cy="1777.9" r="4.8"/><circle cx="1162.0" cy="1779.4" r="4.8"/><circle cx="1164.5" cy="1778.8" r="4.8"/><circle cx="1164.8" cy="1776.8" r="4.8"/><circle cx="1166.2" cy="1776.5" r="4.8"/><circle cx="1166.7" cy="1776.6" r="4.8"/><circle cx="1168.3" cy="1773.2" r="4.8"/><circle cx="1169.7" cy="1772.6" r="4.8"/><circle cx="1172.2" cy="1771.8" r="4.8"/><circle cx="1173.1" cy="1772.8" r="4.8"/><circle cx="1174.6" cy="1771.7" r="4.8"/><circle cx="1175.6" cy="1767.1" r="4.8"/><circle cx="1176.5" cy="1769.1" r="4.8"/><circle cx="1178.1" cy="1768.8" r="4.8"/><circle cx="1179.0" cy="1767.7" r="4.8"/><circle cx="1179.7" cy="1766.6" r="4.8"/><circle cx="1181.7" cy="1764.7" r="4.8"/><circle cx="1183.2" cy="1765.3" r="4.8"/><circle cx="1184.1" cy="1763.0" r="4.8"/><circle cx="1184.9" cy="1763.8" r="4.8"/><circle cx="1187.1" cy="1763.0" r="4.8"/><circle cx="1188.5" cy="1759.8" r="4.8"/><circle cx="1189.1" cy="1760.2" r="4.8"/><circle cx="1190.6" cy="1760.4" r="4.8"/><circle cx="1191.2" cy="1760.1" r="4.8"/><circle cx="1192.5" cy="1756.8" r="4.8"/><circle cx="1193.8" cy="1756.1" r="4.8"/><circle cx="1195.4" cy="1755.6" r="4.8"/><circle cx="1196.2" cy="1756.2" r="4.8"/><circle cx="1197.3" cy="1755.6" r="4.8"/><circle cx="1198.8" cy="1754.5" r="4.8"/><circle cx="1199.5" cy="1750.1" r="4.8"/><circle cx="1200.8" cy="1750.8" r="4.8"/><circle cx="1203.1" cy="1749.6" r="4.8"/><circle cx="1203.9" cy="1748.4" r="4.8"/><circle cx="1204.7" cy="1750.3" r="4.8"/><circle cx="1205.7" cy="1747.6" r="4.8"/><circle cx="1205.9" cy="1747.9" r="4.8"/><circle cx="1206.8" cy="1746.9" r="4.8"/><circle cx="1209.2" cy="1747.3" r="4.8"/><circle cx="1210.1" cy="1745.3" r="4.8"/><circle cx="1211.5" cy="1743.5" r="4.8"/><circle cx="1212.0" cy="1744.8" r="4.8"/><circle cx="1213.0" cy="1741.3" r="4.8"/><circle cx="1214.7" cy="1743.6" r="4.8"/><circle cx="1215.3" cy="1741.3" r="4.8"/><circle cx="1217.1" cy="1739.8" r="4.8"/><circle cx="1219.3" cy="1739.2" r="4.8"/><circle cx="1220.9" cy="1736.4" r="4.8"/><circle cx="1221.9" cy="1737.2" r="4.8"/><circle cx="1223.5" cy="1733.6" r="4.8"/><circle cx="1224.6" cy="1735.1" r="4.8"/><circle cx="1225.7" cy="1734.8" r="4.8"/><circle cx="1227.0" cy="1733.9" r="4.8"/><circle cx="1228.4" cy="1733.2" r="4.8"/><circle cx="1228.5" cy="1730.6" r="4.8"/><circle cx="1230.0" cy="1730.7" r="4.8"/><circle cx="1231.7" cy="1730.5" r="4.8"/><circle cx="1231.8" cy="1727.3" r="4.8"/><circle cx="1232.8" cy="1729.1" r="4.8"/><circle cx="1233.1" cy="1726.1" r="4.8"/><circle cx="1240.5" cy="1721.2" r="4.8"/><circle cx="1244.1" cy="1718.6" r="4.8"/><circle cx="1244.5" cy="1717.9" r="4.8"/><circle cx="1245.9" cy="1716.8" r="4.8"/><circle cx="1246.8" cy="1717.4" r="4.8"/><circle cx="1249.4" cy="1717.7" r="4.8"/><circle cx="1249.6" cy="1714.2" r="4.8"/><circle cx="1251.4" cy="1715.0" r="4.8"/><circle cx="1252.6" cy="1713.8" r="4.8"/><circle cx="1254.2" cy="1713.1" r="4.8"/><circle cx="1268.4" cy="1700.3" r="4.8"/><circle cx="1268.9" cy="1699.2" r="4.8"/><circle cx="1271.5" cy="1699.8" r="4.8"/><circle cx="1272.9" cy="1696.2" r="4.8"/><circle cx="1274.9" cy="1695.3" r="4.8"/><circle cx="1277.5" cy="1694.0" r="4.8"/><circle cx="1279.3" cy="1693.1" r="4.8"/><circle cx="1282.3" cy="1690.7" r="4.8"/><circle cx="1291.9" cy="1682.3" r="4.8"/><circle cx="1294.4" cy="1682.7" r="4.8"/><circle cx="1295.5" cy="1680.1" r="4.8"/><circle cx="1298.8" cy="1680.4" r="4.8"/><circle cx="1300.6" cy="1676.7" r="4.8"/><circle cx="1304.0" cy="1673.3" r="4.8"/><circle cx="1305.2" cy="1672.8" r="4.8"/><circle cx="1309.2" cy="1669.3" r="4.8"/><circle cx="1312.8" cy="1667.2" r="4.8"/><circle cx="1318.8" cy="1661.5" r="4.8"/><circle cx="1321.1" cy="1663.3" r="4.8"/><circle cx="1321.0" cy="1661.5" r="4.8"/><circle cx="1324.6" cy="1659.4" r="4.8"/><circle cx="1328.0" cy="1658.1" r="4.8"/><circle cx="1331.6" cy="1654.7" r="4.8"/><circle cx="1334.3" cy="1652.1" r="4.8"/><circle cx="1337.2" cy="1649.5" r="4.8"/><circle cx="1345.0" cy="1644.1" r="4.8"/><circle cx="1347.0" cy="1639.9" r="4.8"/><circle cx="1351.5" cy="1638.0" r="4.8"/><circle cx="1353.5" cy="1636.0" r="4.8"/><circle cx="1355.5" cy="1637.7" r="4.8"/><circle cx="1357.5" cy="1633.3" r="4.8"/><circle cx="1358.2" cy="1631.6" r="4.8"/><circle cx="1360.8" cy="1629.4" r="4.8"/><circle cx="1363.9" cy="1631.0" r="4.8"/><circle cx="184.5" cy="2237.5" r="4.8"/><circle cx="281.8" cy="2209.5" r="4.8"/><circle cx="335.0" cy="2193.2" r="4.8"/><circle cx="357.5" cy="2187.5" r="4.8"/><circle cx="392.8" cy="2175.0" r="4.8"/><circle cx="406.5" cy="2168.8" r="4.8"/><circle cx="429.5" cy="2159.5" r="4.8"/><circle cx="441.2" cy="2156.0" r="4.8"/><circle cx="446.2" cy="2155.0" r="4.8"/><circle cx="456.0" cy="2150.0" r="4.8"/><circle cx="460.0" cy="2149.0" r="4.8"/><circle cx="471.2" cy="2145.0" r="4.8"/><circle cx="485.0" cy="2140.0" r="4.8"/><circle cx="1377.0" cy="1618.5" r="4.8"/><circle cx="1380.0" cy="1616.5" r="4.8"/><circle cx="1391.5" cy="1608.5" r="4.8"/><circle cx="1400.5" cy="1601.9" r="4.8"/><circle cx="1419.0" cy="1587.8" r="4.8"/><circle cx="1486.1" cy="1532.5" r="4.8"/><circle cx="1518.6" cy="1506.9" r="4.8"/></g>
<g fill="none" stroke="#0ff" stroke-width="2"><circle cx="532.6" cy="2128.6" r="4.65"/><circle cx="536.0" cy="2125.3" r="4.65"/><circle cx="539.7" cy="2124.5" r="4.65"/><circle cx="540.7" cy="2126.7" r="4.65"/><circle cx="541.7" cy="2123.9" r="4.65"/><circle cx="543.5" cy="2123.4" r="4.65"/><circle cx="544.6" cy="2123.4" r="4.65"/><circle cx="546.0" cy="2122.9" r="4.65"/><circle cx="547.8" cy="2124.6" r="4.65"/><circle cx="551.9" cy="2120.2" r="4.65"/><circle cx="553.3" cy="2119.5" r="4.65"/><circle cx="556.3" cy="2117.9" r="4.65"/><circle cx="559.4" cy="2119.5" r="4.65"/><circle cx="562.2" cy="2118.7" r="4.65"/><circle cx="563.0" cy="2115.9" r="4.65"/><circle cx="563.0" cy="2116.8" r="4.65"/><circle cx="565.6" cy="2116.1" r="4.65"/><circle cx="566.1" cy="2117.7" r="4.65"/><circle cx="567.0" cy="2116.8" r="4.65"/><circle cx="568.5" cy="2114.1" r="4.65"/><circle cx="570.2" cy="2114.2" r="4.65"/><circle cx="570.9" cy="2113.1" r="4.65"/><circle cx="572.0" cy="2112.6" r="4.65"/><circle cx="573.9" cy="2114.7" r="4.65"/><circle cx="574.1" cy="2114.3" r="4.65"/><circle cx="576.2" cy="2112.6" r="4.65"/><circle cx="576.4" cy="2111.3" r="4.65"/><circle cx="578.2" cy="2111.0" r="4.65"/><circle cx="579.2" cy="2112.0" r="4.65"/><circle cx="580.5" cy="2109.9" r="4.65"/><circle cx="580.6" cy="2111.4" r="4.65"/><circle cx="582.6" cy="2108.8" r="4.65"/><circle cx="583.9" cy="2108.2" r="4.65"/><circle cx="584.9" cy="2107.0" r="4.65"/><circle cx="585.7" cy="2109.7" r="4.65"/><circle cx="586.9" cy="2108.7" r="4.65"/><circle cx="588.3" cy="2107.9" r="4.65"/><circle cx="589.3" cy="2108.7" r="4.65"/><circle cx="590.8" cy="2107.7" r="4.65"/><circle cx="592.1" cy="2105.5" r="4.65"/><circle cx="594.4" cy="2104.0" r="4.65"/><circle cx="595.2" cy="2106.8" r="4.65"/><circle cx="596.9" cy="2104.7" r="4.65"/><circle cx="598.1" cy="2105.3" r="4.65"/><circle cx="599.6" cy="2104.3" r="4.65"/><circle cx="601.0" cy="2104.0" r="4.65"/><circle cx="602.3" cy="2102.5" r="4.65"/><circle cx="603.5" cy="2099.5" r="4.65"/><circle cx="604.6" cy="2101.8" r="4.65"/><circle cx="605.3" cy="2102.3" r="4.65"/><circle cx="607.1" cy="2098.5" r="4.65"/><circle cx="609.4" cy="2098.9" r="4.65"/><circle cx="609.6" cy="2100.0" r="4.65"/><circle cx="611.2" cy="2100.1" r="4.65"/><circle cx="612.1" cy="2099.3" r="4.65"/><circle cx="613.5" cy="2099.1" r="4.65"/><circle cx="615.2" cy="2098.3" r="4.65"/><circle cx="616.4" cy="2096.0" r="4.65"/><circle cx="617.6" cy="2096.0" r="4.65"/><circle cx="618.6" cy="2096.2" r="4.65"/><circle cx="618.7" cy="2093.3" r="4.65"/><circle cx="619.9" cy="2095.3" r="4.65"/><circle cx="620.6" cy="2094.6" r="4.65"/><circle cx="621.6" cy="2093.5" r="4.65"/><circle cx="622.1" cy="2092.8" r="4.65"/><circle cx="623.0" cy="2095.4" r="4.65"/><circle cx="623.3" cy="2094.4" r="4.65"/><circle cx="625.0" cy="2090.9" r="4.65"/><circle cx="627.2" cy="2092.6" r="4.65"/><circle cx="627.9" cy="2093.2" r="4.65"/><circle cx="629.0" cy="2089.9" r="4.65"/><circle cx="630.6" cy="2089.8" r="4.65"/><circle cx="631.1" cy="2088.2" r="4.65"/><circle cx="631.6" cy="2088.9" r="4.65"/><circle cx="633.9" cy="2088.6" r="4.65"/><circle cx="635.2" cy="2088.4" r="4.65"/><circle cx="636.6" cy="2086.5" r="4.65"/><circle cx="637.0" cy="2089.2" r="4.65"/><circle cx="638.6" cy="2086.3" r="4.65"/><circle cx="640.3" cy="2087.8" r="4.65"/><circle cx="642.7" cy="2086.2" r="4.65"/><circle cx="643.1" cy="2084.3" r="4.65"/><circle cx="644.4" cy="2083.0" r="4.65"/><circle cx="645.3" cy="2083.6" r="4.65"/><circle cx="647.0" cy="2082.5" r="4.65"/><circle cx="647.2" cy="2084.1" r="4.65"/><circle cx="648.6" cy="2082.4" r="4.65"/><circle cx="649.7" cy="2080.8" r="4.65"/><circle cx="651.4" cy="2083.3" r="4.65"/><circle cx="651.9" cy="2080.6" r="4.65"/><circle cx="654.1" cy="2082.2" r="4.65"/><circle cx="655.0" cy="2078.3" r="4.65"/><circle cx="656.1" cy="2081.8" r="4.65"/><circle cx="657.1" cy="2077.8" r="4.65"/><circle cx="657.4" cy="2079.1" r="4.65"/><circle cx="658.4" cy="2079.9" r="4.65"/><circle cx="659.0" cy="2078.1" r="4.65"/><circle cx="661.7" cy="2077.5" r="4.65"/><circle cx="663.0" cy="2078.6" r="4.65"/><circle cx="664.8" cy="2077.5" r="4.65"/><circle cx="665.4" cy="2075.0" r="4.65"/><circle cx="666.3" cy="2073.8" r="4.65"/><circle cx="668.5" cy="2075.5" r="4.65"/><circle cx="670.1" cy="2075.4" r="4.65"/><circle cx="671.3" cy="2072.3" r="4.65"/><circle cx="672.6" cy="2072.6" r="4.65"/><circle cx="674.0" cy="2073.1" r="4.65"/><circle cx="674.9" cy="2070.1" r="4.65"/><circle cx="676.6" cy="2072.6" r="4.65"/><circle cx="677.2" cy="2069.8" r="4.65"/><circle cx="678.2" cy="2070.4" r="4.65"/><circle cx="680.6" cy="2068.2" r="4.65"/><circle cx="680.7" cy="2067.2" r="4.65"/><circle cx="681.6" cy="2067.4" r="4.65"/><circle cx="684.1" cy="2068.4" r="4.65"/><circle cx="684.8" cy="2066.8" r="4.65"/><circle cx="685.4" cy="2067.9" r="4.65"/><circle cx="686.7" cy="2064.7" r="4.65"/><circle cx="688.2" cy="2067.8" r="4.65"/><circle cx="689.2" cy="2067.1" r="4.65"/><circle cx="690.6" cy="2063.7" r="4.65"/><circle cx="692.0" cy="2066.1" r="4.65"/><circle cx="693.0" cy="2064.3" r="4.65"/><circle cx="695.4" cy="2062.2" r="4.65"/><circle cx="696.2" cy="2062.9" r="4.65"/><circle cx="696.4" cy="2061.9" r="4.65"/><circle cx="697.6" cy="2062.2" r="4.65"/><circle cx="699.3" cy="2061.8" r="4.65"/><circle cx="700.8" cy="2058.1" r="4.65"/><circle cx="701.2" cy="2060.3" r="4.65"/><circle cx="702.5" cy="2060.7" r="4.65"/><circle cx="703.8" cy="2057.5" r="4.65"/><circle cx="704.4" cy="2058.2" r="4.65"/><circle cx="706.5" cy="2059.2" r="4.65"/><circle cx="707.1" cy="2056.6" r="4.65"/><circle cx="707.8" cy="2056.4" r="4.65"/><circle cx="709.0" cy="2054.9" r="4.65"/><circle cx="710.3" cy="2055.9" r="4.65"/><circle cx="712.0" cy="2055.5" r="4.65"/><circle cx="713.1" cy="2055.7" r="4.65"/><circle cx="713.3" cy="2055.4" r="4.65"/><circle cx="714.7" cy="2054.7" r="4.65"/><circle cx="716.6" cy="2051.4" r="4.65"/><circle cx="718.8" cy="2053.6" r="4.65"/><circle cx="719.5" cy="2051.9" r="4.65"/><circle cx="721.2" cy="2052.7" r="4.65"/><circle cx="721.7" cy="2052.4" r="4.65"/><circle cx="723.8" cy="2048.4" r="4.65"/><circle cx="723.5" cy="2049.5" r="4.65"/><circle cx="725.8" cy="2049.6" r="4.65"/><circle cx="726.5" cy="2050.2" r="4.65"/><circle cx="727.9" cy="2046.6" r="4.65"/><circle cx="728.9" cy="2049.0" r="4.65"/><circle cx="730.6" cy="2045.0" r="4.65"/><circle cx="731.2" cy="2045.1" r="4.65"/><circle cx="731.6" cy="2048.3" r="4.65"/><circle cx="732.1" cy="2047.2" r="4.65"/><circle cx="733.0" cy="2047.6" r="4.65"/><circle cx="734.1" cy="2043.7" r="4.65"/><circle cx="734.5" cy="2046.6" r="4.65"/><circle cx="735.3" cy="2045.4" r="4.65"/><circle cx="736.3" cy="2043.0" r="4.65"/><circle cx="737.8" cy="2042.7" r="4.65"/><circle cx="739.3" cy="2042.1" r="4.65"/><circle cx="739.2" cy="2042.9" r="4.65"/><circle cx="740.4" cy="2044.4" r="4.65"/><circle cx="742.0" cy="2043.2" r="4.65"/><circle cx="742.3" cy="2042.0" r="4.65"/><circle cx="743.5" cy="2042.3" r="4.65"/><circle cx="745.6" cy="2038.6" r="4.65"/><circle cx="746.9" cy="2039.7" r="4.65"/><circle cx="748.5" cy="2037.0" r="4.65"/><circle cx="750.9" cy="2037.9" r="4.65"/><circle cx="751.8" cy="2035.7" r="4.65"/><circle cx="753.2" cy="2036.1" r="4.65"/><circle cx="753.9" cy="2036.8" r="4.65"/><circle cx="754.8" cy="2037.7" r="4.65"/><circle cx="755.3" cy="2036.9" r="4.65"/><circle cx="756.7" cy="2032.9" r="4.65"/><circle cx="758.9" cy="2033.0" r="4.65"/><circle cx="760.0" cy="2033.8" r="4.65"/><circle cx="761.2" cy="2034.0" r="4.65"/><circle cx="763.0" cy="2032.9" r="4.65"/><circle cx="763.3" cy="2033.5" r="4.65"/><circle cx="765.0" cy="2033.1" r="4.65"/><circle cx="766.5" cy="2028.5" r="4.65"/><circle cx="767.7" cy="2028.8" r="4.65"/><circle cx="769.2" cy="2029.2" r="4.65"/><circle cx="769.5" cy="2028.6" r="4.65"/><circle cx="770.3" cy="2027.0" r="4.65"/><circle cx="771.5" cy="2028.0" r="4.65"/><circle cx="773.1" cy="2028.4" r="4.65"/><circle cx="773.8" cy="2025.2" r="4.65"/><circle cx="776.2" cy="2025.8" r="4.65"/><circle cx="776.9" cy="2024.7" r="4.65"/><circle cx="777.5" cy="2023.5" r="4.65"/><circle cx="779.0" cy="2023.3" r="4.65"/><circle cx="780.1" cy="2024.8" r="4.65"/><circle cx="781.4" cy="2021.5" r="4.65"/><circle cx="783.0" cy="2021.9" r="4.65"/><circle cx="784.6" cy="2022.3" r="4.65"/><circle cx="787.4" cy="2022.3" r="4.65"/><circle cx="787.7" cy="2021.8" r="4.65"/><circle cx="789.8" cy="2020.4" r="4.65"/><circle cx="790.9" cy="2018.8" r="4.65"/><circle cx="792.6" cy="2018.6" r="4.65"/><circle cx="794.5" cy="2018.5" r="4.65"/><circle cx="795.9" cy="2017.9" r="4.65"/><circle cx="796.8" cy="2015.9" r="4.65"/><circle cx="798.5" cy="2016.9" r="4.65"/><circle cx="800.0" cy="2015.4" r="4.65"/><circle cx="802.3" cy="2011.9" r="4.65"/><circle cx="803.3" cy="2013.8" r="4.65"/><circle cx="805.1" cy="2013.7" r="4.65"/><circle cx="806.1" cy="2010.7" r="4.65"/><circle cx="807.4" cy="2009.5" r="4.65"/><circle cx="809.7" cy="2012.3" r="4.65"/><circle cx="810.9" cy="2008.7" r="4.65"/><circle cx="812.0" cy="2008.7" r="4.65"/><circle cx="812.5" cy="2009.6" r="4.65"/><circle cx="813.4" cy="2006.3" r="4.65"/><circle cx="814.9" cy="2007.4" r="4.65"/><circle cx="815.2" cy="2007.5" r="4.65"/><circle cx="816.2" cy="2006.9" r="4.65"/><circle cx="817.7" cy="2004.6" r="4.65"/><circle cx="819.1" cy="2005.2" r="4.65"/><circle cx="821.1" cy="2004.0" r="4.65"/><circle cx="822.6" cy="2005.6" r="4.65"/><circle cx="823.1" cy="2002.9" r="4.65"/><circle cx="824.0" cy="2004.3" r="4.65"/><circle cx="824.7" cy="2002.1" r="4.65"/><circle cx="826.1" cy="2001.9" r="4.65"/><circle cx="827.2" cy="2003.3" r="4.65"/><circle cx="828.3" cy="2002.0" r="4.65"/><circle cx="830.2" cy="2001.1" r="4.65"/><circle cx="830.2" cy="1999.5" r="4.65"/><circle cx="831.5" cy="1998.2" r="4.65"/><circle cx="832.4" cy="1999.7" r="4.65"/><circle cx="834.7" cy="1999.6" r="4.65"/><circle cx="835.5" cy="1998.7" r="4.65"/><circle cx="836.6" cy="1995.4" r="4.65"/><circle cx="837.3" cy="1995.3" r="4.65"/><circle cx="838.6" cy="1995.0" r="4.65"/><circle cx="839.2" cy="1997.8" r="4.65"/><circle cx="840.2" cy="1995.7" r="4.65"/><circle cx="841.0" cy="1996.8" r="4.65"/><circle cx="842.4" cy="1994.9" r="4.65"/><circle cx="844.7" cy="1992.7" r="4.65"/><circle cx="844.5" cy="1991.3" r="4.65"/><circle cx="846.1" cy="1993.4" r="4.65"/><circle cx="847.1" cy="1993.7" r="4.65"/><circle cx="849.3" cy="1991.5" r="4.65"/><circle cx="849.6" cy="1989.6" r="4.65"/><circle cx="851.2" cy="1992.1" r="4.65"/><circle cx="851.4" cy="1991.1" r="4.65"/><circle cx="853.8" cy="1988.0" r="4.65"/><circle cx="854.1" cy="1989.4" r="4.65"/><circle cx="856.3" cy="1989.7" r="4.65"/><circle cx="857.8" cy="1984.9" r="4.65"/><circle cx="859.8" cy="1983.9" r="4.65"/><circle cx="860.9" cy="1984.6" r="4.65"/><circle cx="862.1" cy="1983.8" r="4.65"/><circle cx="863.6" cy="1984.0" r="4.65"/><circle cx="865.1" cy="1983.6" r="4.65"/><circle cx="866.0" cy="1981.0" r="4.65"/><circle cx="866.3" cy="1981.7" r="4.65"/><circle cx="867.5" cy="1983.7" r="4.65"/><circle cx="867.7" cy="1982.2" r="4.65"/><circle cx="868.4" cy="1982.9" r="4.65"/><circle cx="869.5" cy="1981.4" r="4.65"/><circle cx="870.4" cy="1979.5" r="4.65"/><circle cx="871.2" cy="1980.8" r="4.65"/><circle cx="871.8" cy="1978.2" r="4.65"/><circle cx="872.2" cy="1981.2" r="4.65"/><circle cx="874.1" cy="1977.2" r="4.65"/><circle cx="875.5" cy="1976.4" r="4.65"/><circle cx="875.6" cy="1979.0" r="4.65"/><circle cx="877.5" cy="1976.1" r="4.65"/><circle cx="878.1" cy="1977.1" r="4.65"/><circle cx="878.3" cy="1975.1" r="4.65"/><circle cx="881.0" cy="1976.3" r="4.65"/><circle cx="882.2" cy="1974.1" r="4.65"/><circle cx="884.4" cy="1972.6" r="4.65"/><circle cx="884.2" cy="1972.7" r="4.65"/><circle cx="886.0" cy="1973.4" r="4.65"/><circle cx="885.7" cy="1973.7" r="4.65"/><circle cx="887.0" cy="1971.1" r="4.65"/><circle cx="887.0" cy="1970.4" r="4.65"/><circle cx="887.7" cy="1970.8" r="4.65"/><circle cx="889.1" cy="1972.1" r="4.65"/><circle cx="890.1" cy="1970.3" r="4.65"/><circle cx="891.0" cy="1970.7" r="4.65"/><circle cx="892.9" cy="1970.3" r="4.65"/><circle cx="893.5" cy="1969.2" r="4.65"/><circle cx="894.6" cy="1969.0" r="4.65"/><circle cx="895.3" cy="1967.0" r="4.65"/><circle cx="896.5" cy="1965.7" r="4.65"/><circle cx="898.6" cy="1967.5" r="4.65"/><circle cx="899.5" cy="1964.8" r="4.65"/><circle cx="900.6" cy="1966.3" r="4.65"/><circle cx="901.7" cy="1966.0" r="4.65"/><circle cx="902.5" cy="1963.8" r="4.65"/><circle cx="904.0" cy="1964.5" r="4.65"/><circle cx="906.2" cy="1961.3" r="4.65"/><circle cx="907.6" cy="1962.7" r="4.65"/><circle cx="909.1" cy="1961.3" r="4.65"/><circle cx="910.4" cy="1960.8" r="4.65"/><circle cx="910.4" cy="1957.2" r="4.65"/><circle cx="912.3" cy="1957.9" r="4.65"/><circle cx="913.1" cy="1959.8" r="4.65"/><circle cx="914.3" cy="1956.1" r="4.65"/><circle cx="915.8" cy="1956.8" r="4.65"/><circle cx="917.6" cy="1955.2" r="4.65"/><circle cx="919.2" cy="1952.8" r="4.65"/><circle cx="920.1" cy="1953.5" r="4.65"/><circle cx="920.6" cy="1953.0" r="4.65"/><circle cx="921.2" cy="1953.6" r="4.65"/><circle cx="923.1" cy="1953.5" r="4.65"/><circle cx="925.5" cy="1953.3" r="4.65"/><circle cx="926.2" cy="1950.0" r="4.65"/><circle cx="928.0" cy="1949.7" r="4.65"/><circle cx="928.7" cy="1948.7" r="4.65"/><circle cx="929.6" cy="1949.0" r="4.65"/><circle cx="930.7" cy="1948.4" r="4.65"/><circle cx="931.5" cy="1946.0" r="4.65"/><circle cx="932.5" cy="1949.2" r="4.65"/><circle cx="933.5" cy="1945.2" r="4.65"/><circle cx="935.1" cy="1946.9" r="4.65"/><circle cx="935.9" cy="1945.0" r="4.65"/><circle cx="937.9" cy="1944.5" r="4.65"/><circle cx="940.5" cy="1942.2" r="4.65"/><circle cx="940.7" cy="1941.3" r="4.65"/><circle cx="942.1" cy="1940.5" r="4.65"/><circle cx="944.0" cy="1942.4" r="4.65"/><circle cx="945.5" cy="1941.1" r="4.65"/><circle cx="945.3" cy="1939.9" r="4.65"/><circle cx="946.0" cy="1939.9" r="4.65"/><circle cx="948.0" cy="1937.3" r="4.65"/><circle cx="950.2" cy="1939.5" r="4.65"/><circle cx="949.8" cy="1939.0" r="4.65"/><circle cx="951.0" cy="1936.3" r="4.65"/><circle cx="953.2" cy="1938.0" r="4.65"/><circle cx="953.8" cy="1936.4" r="4.65"/><circle cx="955.8" cy="1935.9" r="4.65"/><circle cx="957.7" cy="1932.2" r="4.65"/><circle cx="958.2" cy="1933.5" r="4.65"/><circle cx="959.2" cy="1934.3" r="4.65"/><circle cx="959.9" cy="1933.2" r="4.65"/><circle cx="962.5" cy="1932.0" r="4.65"/><circle cx="963.2" cy="1928.8" r="4.65"/><circle cx="964.8" cy="1928.6" r="4.65"/><circle cx="966.8" cy="1927.0" r="4.65"/><circle cx="967.3" cy="1926.2" r="4.65"/><circle cx="969.3" cy="1925.4" r="4.65"/><circle cx="969.8" cy="1927.2" r="4.65"/><circle cx="970.8" cy="1926.7" r="4.65"/><circle cx="971.7" cy="1925.5" r="4.65"/><circle cx="973.1" cy="1923.9" r="4.65"/><circle cx="975.0" cy="1924.7" r="4.65"/><circle cx="976.8" cy="1924.2" r="4.65"/><circle cx="977.0" cy="1924.0" r="4.65"/><circle cx="977.7" cy="1923.8" r="4.65"/><circle cx="979.1" cy="1922.6" r="4.65"/><circle cx="980.3" cy="1920.3" r="4.65"/><circle cx="981.1" cy="1922.1" r="4.65"/><circle cx="980.9" cy="1920.6" r="4.65"/><circle cx="982.1" cy="1919.9" r="4.65"/><circle cx="983.2" cy="1919.4" r="4.65"/><circle cx="984.4" cy="1917.6" r="4.65"/><circle cx="986.1" cy="1916.7" r="4.65"/><circle cx="987.8" cy="1916.4" r="4.65"/><circle cx="987.7" cy="1917.9" r="4.65"/><circle cx="989.6" cy="1915.4" r="4.65"/><circle cx="992.4" cy="1915.6" r="4.65"/><circle cx="993.3" cy="1912.0" r="4.65"/><circle cx="994.4" cy="1911.6" r="4.65"/><circle cx="996.1" cy="1910.6" r="4.65"/><circle cx="996.9" cy="1908.9" r="4.65"/><circle cx="999.2" cy="1907.8" r="4.65"/><circle cx="999.9" cy="1908.7" r="4.65"/><circle cx="1001.6" cy="1908.6" r="4.65"/><circle cx="1002.4" cy="1908.8" r="4.65"/><circle cx="1003.9" cy="1908.5" r="4.65"/><circle cx="1005.9" cy="1907.2" r="4.65"/><circle cx="1006.7" cy="1906.2" r="4.65"/><circle cx="1007.9" cy="1904.3" r="4.65"/><circle cx="1009.0" cy="1904.5" r="4.65"/><circle cx="1010.6" cy="1904.2" r="4.65"/><circle cx="1011.1" cy="1900.9" r="4.65"/><circle cx="1012.1" cy="1903.0" r="4.65"/><circle cx="1012.4" cy="1899.7" r="4.65"/><circle cx="1014.1" cy="1900.1" r="4.65"/><circle cx="1014.4" cy="1898.8" r="4.65"/><circle cx="1016.1" cy="1897.5" r="4.65"/><circle cx="1018.1" cy="1896.3" r="4.65"/><circle cx="1020.4" cy="1898.0" r="4.65"/><circle cx="1022.6" cy="1896.2" r="4.65"/><circle cx="1024.2" cy="1893.5" r="4.65"/><circle cx="1024.5" cy="1893.1" r="4.65"/><circle cx="1027.4" cy="1894.3" r="4.65"/><circle cx="1027.8" cy="1893.1" r="4.65"/><circle cx="1029.8" cy="1892.8" r="4.65"/><circle cx="1031.3" cy="1891.5" r="4.65"/><circle cx="1033.1" cy="1888.6" r="4.65"/><circle cx="1034.1" cy="1887.4" r="4.65"/><circle cx="1035.0" cy="1890.1" r="4.65"/><circle cx="1036.6" cy="1886.1" r="4.65"/><circle cx="1036.8" cy="1886.0" r="4.65"/><circle cx="1037.4" cy="1885.1" r="4.65"/><circle cx="1038.6" cy="1885.4" r="4.65"/><circle cx="1040.2" cy="1884.4" r="4.65"/><circle cx="1042.6" cy="1884.3" r="4.65"/><circle cx="1042.4" cy="1884.6" r="4.65"/><circle cx="1042.9" cy="1883.1" r="4.65"/><circle cx="1043.8" cy="1882.7" r="4.65"/><circle cx="1044.4" cy="1881.7" r="4.65"/><circle cx="1045.0" cy="1883.8" r="4.65"/><circle cx="1046.4" cy="1880.2" r="4.65"/><circle cx="1047.7" cy="1878.9" r="4.65"/><circle cx="1048.7" cy="1879.3" r="4.65"/><circle cx="1049.7" cy="1879.4" r="4.65"/><circle cx="1051.1" cy="1879.0" r="4.65"/><circle cx="1052.3" cy="1876.8" r="4.65"/><circle cx="1052.9" cy="1877.6" r="4.65"/><circle cx="1054.3" cy="1877.7" r="4.65"/><circle cx="1055.8" cy="1875.3" r="4.65"/><circle cx="1057.0" cy="1873.5" r="4.65"/><circle cx="1059.1" cy="1872.5" r="4.65"/><circle cx="1059.9" cy="1874.5" r="4.65"/><circle cx="1062.1" cy="1870.3" r="4.65"/><circle cx="1062.3" cy="1869.6" r="4.65"/><circle cx="1063.7" cy="1872.1" r="4.65"/><circle cx="1066.0" cy="1867.9" r="4.65"/><circle cx="1067.0" cy="1869.3" r="4.65"/><circle cx="1068.0" cy="1865.9" r="4.65"/><circle cx="1068.6" cy="1866.3" r="4.65"/><circle cx="1070.4" cy="1864.6" r="4.65"/><circle cx="1071.6" cy="1865.8" r="4.65"/><circle cx="1072.1" cy="1864.2" r="4.65"/><circle cx="1073.9" cy="1864.7" r="4.65"/><circle cx="1074.7" cy="1865.5" r="4.65"/><circle cx="1074.8" cy="1862.4" r="4.65"/><circle cx="1075.7" cy="1862.2" r="4.65"/><circle cx="1076.7" cy="1862.1" r="4.65"/><circle cx="1077.4" cy="1861.9" r="4.65"/><circle cx="1079.0" cy="1860.4" r="4.65"/><circle cx="1079.4" cy="1861.4" r="4.65"/><circle cx="1080.1" cy="1861.5" r="4.65"/><circle cx="1082.0" cy="1858.0" r="4.65"/><circle cx="1084.1" cy="1859.4" r="4.65"/><circle cx="1085.3" cy="1856.9" r="4.65"/><circle cx="1085.9" cy="1855.0" r="4.65"/><circle cx="1087.1" cy="1857.4" r="4.65"/><circle cx="1089.3" cy="1853.8" r="4.65"/><circle cx="1090.4" cy="1852.1" r="4.65"/><circle cx="1092.1" cy="1851.0" r="4.65"/><circle cx="1092.8" cy="1851.9" r="4.65"/><circle cx="1094.1" cy="1853.2" r="4.65"/><circle cx="1094.6" cy="1849.1" r="4.65"/><circle cx="1095.7" cy="1851.2" r="4.65"/><circle cx="1097.4" cy="1847.3" r="4.65"/><circle cx="1099.2" cy="1849.9" r="4.65"/><circle cx="1100.2" cy="1846.1" r="4.65"/><circle cx="1102.6" cy="1845.6" r="4.65"/><circle cx="1104.1" cy="1847.1" r="4.65"/><circle cx="1105.4" cy="1844.5" r="4.65"/><circle cx="1106.8" cy="1843.7" r="4.65"/><circle cx="1107.9" cy="1844.0" r="4.65"/><circle cx="1109.1" cy="1843.0" r="4.65"/><circle cx="1110.0" cy="1840.8" r="4.65"/><circle cx="1111.3" cy="1839.1" r="4.65"/><circle cx="1113.4" cy="1839.2" r="4.65"/><circle cx="1115.3" cy="1838.7" r="4.65"/><circle cx="1116.2" cy="1838.5" r="4.65"/><circle cx="1117.4" cy="1837.2" r="4.65"/><circle cx="1118.2" cy="1835.4" r="4.65"/><circle cx="1120.5" cy="1833.0" r="4.65"/><circle cx="1121.6" cy="1835.9" r="4.65"/><circle cx="1123.1" cy="1832.9" r="4.65"/><circle cx="1123.8" cy="1831.9" r="4.65"/><circle cx="1125.8" cy="1829.9" r="4.65"/><circle cx="1128.2" cy="1831.2" r="4.65"/><circle cx="1128.3" cy="1830.8" r="4.65"/><circle cx="1130.2" cy="1829.5" r="4.65"/><circle cx="1132.3" cy="1827.8" r="4.65"/><circle cx="1132.8" cy="1827.7" r="4.65"/><circle cx="1133.8" cy="1825.9" r="4.65"/><circle cx="1133.6" cy="1824.2" r="4.65"/><circle cx="1135.7" cy="1823.5" r="4.65"/><circle cx="1136.3" cy="1823.0" r="4.65"/><circle cx="1137.4" cy="1825.5" r="4.65"/><circle cx="1138.2" cy="1821.3" r="4.65"/><circle cx="1139.7" cy="1822.1" r="4.65"/><circle cx="1141.6" cy="1819.6" r="4.65"/><circle cx="1143.1" cy="1821.3" r="4.65"/><circle cx="1144.6" cy="1820.7" r="4.65"/><circle cx="1145.6" cy="1818.8" r="4.65"/><circle cx="1146.4" cy="1818.5" r="4.65"/><circle cx="1146.6" cy="1815.8" r="4.65"/><circle cx="1148.6" cy="1814.3" r="4.65"/><circle cx="1149.2" cy="1815.0" r="4.65"/><circle cx="1152.1" cy="1815.4" r="4.65"/><circle cx="1153.9" cy="1811.3" r="4.65"/><circle cx="1155.6" cy="1813.5" r="4.65"/><circle cx="1158.0" cy="1808.4" r="4.65"/><circle cx="1158.8" cy="1810.0" r="4.65"/><circle cx="1161.3" cy="1806.6" r="4.65"/><circle cx="1162.4" cy="1807.5" r="4.65"/><circle cx="1162.3" cy="1806.2" r="4.65"/><circle cx="1165.2" cy="1804.2" r="4.65"/><circle cx="1166.8" cy="1803.2" r="4.65"/><circle cx="1167.3" cy="1802.9" r="4.65"/><circle cx="1168.7" cy="1804.2" r="4.65"/><circle cx="1170.1" cy="1802.9" r="4.65"/><circle cx="1172.5" cy="1799.8" r="4.65"/><circle cx="1173.8" cy="1799.3" r="4.65"/><circle cx="1176.5" cy="1799.0" r="4.65"/><circle cx="1177.1" cy="1798.0" r="4.65"/><circle cx="1178.9" cy="1794.9" r="4.65"/><circle cx="1181.8" cy="1795.4" r="4.65"/><circle cx="1183.8" cy="1793.5" r="4.65"/><circle cx="1185.6" cy="1790.6" r="4.65"/><circle cx="1187.1" cy="1791.3" r="4.65"/><circle cx="1189.5" cy="1789.2" r="4.65"/><circle cx="1190.8" cy="1789.6" r="4.65"/><circle cx="1193.5" cy="1784.9" r="4.65"/><circle cx="1196.2" cy="1783.0" r="4.65"/><circle cx="1198.8" cy="1783.7" r="4.65"/><circle cx="1199.1" cy="1782.5" r="4.65"/><circle cx="1201.3" cy="1779.3" r="4.65"/><circle cx="1201.9" cy="1779.8" r="4.65"/><circle cx="1202.9" cy="1778.3" r="4.65"/><circle cx="1204.6" cy="1779.2" r="4.65"/><circle cx="1206.6" cy="1776.2" r="4.65"/><circle cx="1208.8" cy="1777.3" r="4.65"/><circle cx="1211.4" cy="1775.1" r="4.65"/><circle cx="1211.5" cy="1775.3" r="4.65"/><circle cx="1212.8" cy="1772.0" r="4.65"/><circle cx="1214.2" cy="1772.9" r="4.65"/><circle cx="1216.5" cy="1770.6" r="4.65"/><circle cx="1218.5" cy="1770.4" r="4.65"/><circle cx="1220.0" cy="1766.6" r="4.65"/><circle cx="1221.9" cy="1768.7" r="4.65"/><circle cx="1224.1" cy="1765.9" r="4.65"/><circle cx="1225.0" cy="1764.9" r="4.65"/><circle cx="1226.2" cy="1765.1" r="4.65"/><circle cx="1228.2" cy="1762.8" r="4.65"/><circle cx="1230.0" cy="1759.9" r="4.65"/><circle cx="1232.0" cy="1759.7" r="4.65"/><circle cx="1233.2" cy="1759.5" r="4.65"/><circle cx="1234.5" cy="1759.4" r="4.65"/><circle cx="1235.2" cy="1756.4" r="4.65"/><circle cx="1237.6" cy="1754.4" r="4.65"/><circle cx="1239.1" cy="1755.9" r="4.65"/><circle cx="1242.3" cy="1751.5" r="4.65"/><circle cx="1247.6" cy="1750.2" r="4.65"/><circle cx="1250.2" cy="1746.6" r="4.65"/><circle cx="1253.3" cy="1746.0" r="4.65"/><circle cx="1257.4" cy="1741.0" r="4.65"/><circle cx="1260.4" cy="1740.2" r="4.65"/><circle cx="1262.3" cy="1738.6" r="4.65"/><circle cx="1265.7" cy="1734.6" r="4.65"/><circle cx="1282.6" cy="1724.8" r="4.65"/><circle cx="1288.7" cy="1719.0" r="4.65"/><circle cx="1290.6" cy="1719.4" r="4.65"/><circle cx="1292.3" cy="1716.6" r="4.65"/><circle cx="1297.7" cy="1713.8" r="4.65"/><circle cx="1299.7" cy="1712.3" r="4.65"/><circle cx="1304.2" cy="1707.8" r="4.65"/><circle cx="1308.8" cy="1706.0" r="4.65"/><circle cx="1312.2" cy="1702.1" r="4.65"/><circle cx="1313.2" cy="1700.8" r="4.65"/><circle cx="1317.6" cy="1696.7" r="4.65"/><circle cx="1318.9" cy="1696.0" r="4.65"/><circle cx="1324.7" cy="1692.9" r="4.65"/><circle cx="1330.1" cy="1690.6" r="4.65"/><circle cx="1332.3" cy="1688.3" r="4.65"/><circle cx="1333.8" cy="1685.7" r="4.65"/><circle cx="169.5" cy="2240.8" r="4.65"/><circle cx="204.2" cy="2231.5" r="4.65"/><circle cx="257.5" cy="2218.0" r="4.65"/><circle cx="347.0" cy="2190.0" r="4.65"/><circle cx="357.0" cy="2187.5" r="4.65"/><circle cx="368.2" cy="2185.0" r="4.65"/><circle cx="403.0" cy="2173.8" r="4.65"/><circle cx="413.0" cy="2170.0" r="4.65"/><circle cx="417.0" cy="2169.0" r="4.65"/><circle cx="425.8" cy="2165.5" r="4.65"/><circle cx="433.8" cy="2163.0" r="4.65"/><circle cx="440.5" cy="2161.0" r="4.65"/><circle cx="451.5" cy="2157.0" r="4.65"/><circle cx="461.2" cy="2153.0" r="4.65"/><circle cx="505.0" cy="2140.0" r="4.65"/><circle cx="509.0" cy="2139.0" r="4.65"/><circle cx="513.4" cy="2137.5" r="4.65"/><circle cx="517.0" cy="2136.5" r="4.65"/><circle cx="520.9" cy="2135.5" r="4.65"/><circle cx="1349.0" cy="1673.5" r="4.65"/><circle cx="1353.0" cy="1671.5" r="4.65"/><circle cx="1356.0" cy="1670.0" r="4.65"/><circle cx="1397.0" cy="1637.0" r="4.65"/><circle cx="1441.1" cy="1603.1" r="4.65"/><circle cx="1468.6" cy="1580.0" r="4.65"/><circle cx="1476.1" cy="1575.0" r="4.65"/><circle cx="1487.4" cy="1568.1" r="4.65"/></g>
<g><circle cx="212.7" cy="168.9" r="4.8" fill="#f00"/><circle cx="213.4" cy="204.6" r="4.65" fill="none" stroke="#0ff" stroke-width="2"/>
<circle cx="212.3" cy="1463.2" r="4.8" fill="#f00"/><circle cx="213.3" cy="1499.3" r="4.65" fill="none" stroke="#0ff" stroke-width="2"/>
</g><g fill="#000"><text id="labA" transform="translate(119.50 39.00)" style="font-family:'Liberation Serif','Times New Roman',serif;font-weight:bold;font-size:54.50px" textLength="26.1" lengthAdjust="spacing">A</text>
<text id="titleA" transform="translate(591.60 33.50) scale(0.89 1)" style="font-family:'Liberation Serif','Times New Roman',serif;font-weight:bold;font-size:46.00px" textLength="443.2" lengthAdjust="spacing">All-cause Mortality</text>
<text id="annA1" transform="translate(508.20 144.60) scale(0.89 1)" style="font-family:'Liberation Serif','Times New Roman',serif;font-weight:bold;font-size:47.30px" textLength="708.4" lengthAdjust="spacing">Male p for nonlinearity=0.0058</text>
<text id="annA2" transform="translate(508.20 198.00) scale(0.89 1)" style="font-family:'Liberation Serif','Times New Roman',serif;font-weight:bold;font-size:47.30px" textLength="759.7" lengthAdjust="spacing">Female p for nonlinearity=0.0055</text>
<text id="legA1" transform="translate(246.80 181.20) scale(0.89 1)" style="font-family:'Liberation Serif','Times New Roman',serif;font-weight:bold;font-size:46.60px" textLength="115.1" lengthAdjust="spacing">Male</text>
<text id="legA2" transform="translate(241.80 232.10) scale(0.89 1)" style="font-family:'Liberation Serif','Times New Roman',serif;font-weight:bold;font-size:46.60px" textLength="165.7" lengthAdjust="spacing">Female</text>
<text id="xlabA" transform="translate(595.80 1170.80) scale(0.89 1)" style="font-family:'Liberation Serif','Times New Roman',serif;font-weight:bold;font-size:44.00px" textLength="518.0" lengthAdjust="spacing">log2-transformed AISI</text>
<text id="ylabA" transform="translate(31.80 690.00) rotate(-90) scale(0.89 1)" style="font-family:'Liberation Serif','Times New Roman',serif;font-weight:bold;font-size:45.50px" textLength="278.0" lengthAdjust="spacing">HR(95%CI)</text>
<text id="xtA4" transform="translate(137.95 1117.00)" style="font-family:'DejaVu Sans','Liberation Sans',sans-serif;font-weight:200;stroke:#000;stroke-width:1.0px;font-size:29.20px" textLength="16.9" lengthAdjust="spacingAndGlyphs" text-anchor="middle">4</text>
<text id="xtA6" transform="translate(491.35 1117.00)" style="font-family:'DejaVu Sans','Liberation Sans',sans-serif;font-weight:200;stroke:#000;stroke-width:1.0px;font-size:29.20px" textLength="20.0" lengthAdjust="spacingAndGlyphs" text-anchor="middle">6</text>
<text id="xtA8" transform="translate(847.00 1117.00)" style="font-family:'DejaVu Sans','Liberation Sans',sans-serif;font-weight:200;stroke:#000;stroke-width:1.0px;font-size:29.20px" textLength="19.6" lengthAdjust="spacingAndGlyphs" text-anchor="middle">8</text>
<text id="xtA10" transform="translate(1202.90 1117.00)" style="font-family:'DejaVu Sans','Liberation Sans',sans-serif;font-weight:200;stroke:#000;stroke-width:1.0px;font-size:29.20px" textLength="33.7" lengthAdjust="spacingAndGlyphs" text-anchor="middle">10</text>
<text id="xtA12" transform="translate(1558.50 1117.00)" style="font-family:'DejaVu Sans','Liberation Sans',sans-serif;font-weight:200;stroke:#000;stroke-width:1.0px;font-size:29.20px" textLength="34.4" lengthAdjust="spacingAndGlyphs" text-anchor="middle">12</text>
<text id="ytA02" transform="translate(76.00 920.25) rotate(-90)" style="font-family:'DejaVu Sans','Liberation Sans',sans-serif;font-weight:200;stroke:#000;stroke-width:1.0px;font-size:29.20px" textLength="38.3" lengthAdjust="spacingAndGlyphs" text-anchor="middle">0.2</text>
<text id="ytA04" transform="translate(76.00 721.95) rotate(-90)" style="font-family:'DejaVu Sans','Liberation Sans',sans-serif;font-weight:200;stroke:#000;stroke-width:1.0px;font-size:29.20px" textLength="37.5" lengthAdjust="spacingAndGlyphs" text-anchor="middle">0.4</text>
<text id="ytA06" transform="translate(76.00 521.50) rotate(-90)" style="font-family:'DejaVu Sans','Liberation Sans',sans-serif;font-weight:200;stroke:#000;stroke-width:1.0px;font-size:29.20px" textLength="37.9" lengthAdjust="spacingAndGlyphs" text-anchor="middle">0.6</text>
<text id="ytA08" transform="translate(76.00 322.20) rotate(-90)" style="font-family:'DejaVu Sans','Liberation Sans',sans-serif;font-weight:200;stroke:#000;stroke-width:1.0px;font-size:29.20px" textLength="37.1" lengthAdjust="spacingAndGlyphs" text-anchor="middle">0.8</text>
<text id="ytA10" transform="translate(76.00 124.00) rotate(-90)" style="font-family:'DejaVu Sans','Liberation Sans',sans-serif;font-weight:200;stroke:#000;stroke-width:1.0px;font-size:29.20px" textLength="39.4" lengthAdjust="spacingAndGlyphs" text-anchor="middle">1.0</text>
<text id="labB" transform="translate(119.60 1331.00)" style="font-family:'Liberation Serif','Times New Roman',serif;font-weight:bold;font-size:55.00px" textLength="29.3" lengthAdjust="spacing">B</text>
<text id="titleB" transform="translate(540.80 1318.50) scale(0.89 1)" style="font-family:'Liberation Serif','Times New Roman',serif;font-weight:bold;font-size:46.00px" textLength="584.5" lengthAdjust="spacing">Cardiovascular Mortality</text>
<text id="annB1" transform="translate(519.20 1427.00) scale(0.89 1)" style="font-family:'Liberation Serif','Times New Roman',serif;font-weight:bold;font-size:47.30px" textLength="708.4" lengthAdjust="spacing">Male p for nonlinearity=0.1315</text>
<text id="annB2" transform="translate(519.20 1480.00) scale(0.89 1)" style="font-family:'Liberation Serif','Times New Roman',serif;font-weight:bold;font-size:47.30px" textLength="757.7" lengthAdjust="spacing">Female p for nonlinearity=0.1783</text>
<text id="legB1" transform="translate(237.70 1476.40) scale(0.89 1)" style="font-family:'Liberation Serif','Times New Roman',serif;font-weight:bold;font-size:46.60px" textLength="116.0" lengthAdjust="spacing">Male</text>
<text id="legB2" transform="translate(236.70 1522.00) scale(0.89 1)" style="font-family:'Liberation Serif','Times New Roman',serif;font-weight:bold;font-size:46.60px" textLength="164.1" lengthAdjust="spacing">Female</text>
<text id="xlabB" transform="translate(545.30 2470.00) scale(0.89 1)" style="font-family:'Liberation Serif','Times New Roman',serif;font-weight:bold;font-size:44.00px" textLength="517.9" lengthAdjust="spacing">log2-transformed AISI</text>
<text id="ylabB" transform="translate(33.60 1999.00) rotate(-90) scale(0.89 1)" style="font-family:'Liberation Serif','Times New Roman',serif;font-weight:bold;font-size:45.50px" textLength="282.3" lengthAdjust="spacing">HR(95%CI)</text>
<text id="xtB4" transform="translate(137.95 2410.50)" style="font-family:'DejaVu Sans','Liberation Sans',sans-serif;font-weight:200;stroke:#000;stroke-width:1.0px;font-size:29.20px" textLength="16.9" lengthAdjust="spacingAndGlyphs" text-anchor="middle">4</text>
<text id="xtB6" transform="translate(491.35 2410.50)" style="font-family:'DejaVu Sans','Liberation Sans',sans-serif;font-weight:200;stroke:#000;stroke-width:1.0px;font-size:29.20px" textLength="20.0" lengthAdjust="spacingAndGlyphs" text-anchor="middle">6</text>
<text id="xtB8" transform="translate(847.00 2410.50)" style="font-family:'DejaVu Sans','Liberation Sans',sans-serif;font-weight:200;stroke:#000;stroke-width:1.0px;font-size:29.20px" textLength="19.6" lengthAdjust="spacingAndGlyphs" text-anchor="middle">8</text>
<text id="xtB10" transform="translate(1202.90 2410.50)" style="font-family:'DejaVu Sans','Liberation Sans',sans-serif;font-weight:200;stroke:#000;stroke-width:1.0px;font-size:29.20px" textLength="33.7" lengthAdjust="spacingAndGlyphs" text-anchor="middle">10</text>
<text id="xtB12" transform="translate(1558.50 2410.50)" style="font-family:'DejaVu Sans','Liberation Sans',sans-serif;font-weight:200;stroke:#000;stroke-width:1.0px;font-size:29.20px" textLength="34.4" lengthAdjust="spacingAndGlyphs" text-anchor="middle">12</text>
<text id="ytB01" transform="translate(76.00 2210.72) rotate(-90)" style="font-family:'DejaVu Sans','Liberation Sans',sans-serif;font-weight:200;stroke:#000;stroke-width:1.0px;font-size:29.20px" textLength="33.0" lengthAdjust="spacingAndGlyphs" text-anchor="middle">0.1</text>
<text id="ytB02" transform="translate(76.00 1981.60) rotate(-90)" style="font-family:'DejaVu Sans','Liberation Sans',sans-serif;font-weight:200;stroke:#000;stroke-width:1.0px;font-size:29.20px" textLength="38.9" lengthAdjust="spacingAndGlyphs" text-anchor="middle">0.2</text>
<text id="ytB03" transform="translate(76.00 1755.50) rotate(-90)" style="font-family:'DejaVu Sans','Liberation Sans',sans-serif;font-weight:200;stroke:#000;stroke-width:1.0px;font-size:29.20px" textLength="38.2" lengthAdjust="spacingAndGlyphs" text-anchor="middle">0.3</text>
<text id="ytB04" transform="translate(76.00 1529.10) rotate(-90)" style="font-family:'DejaVu Sans','Liberation Sans',sans-serif;font-weight:200;stroke:#000;stroke-width:1.0px;font-size:29.20px" textLength="36.9" lengthAdjust="spacingAndGlyphs" text-anchor="middle">0.4</text></g>
</svg>
</body></html>
